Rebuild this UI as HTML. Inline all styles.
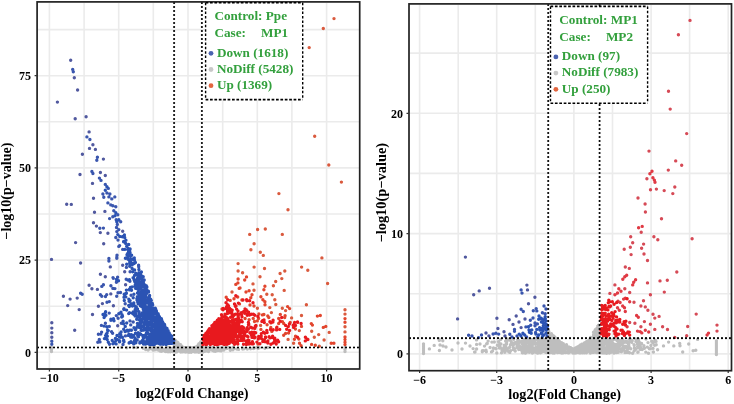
<!DOCTYPE html>
<html><head><meta charset="utf-8"><style>
html,body{margin:0;padding:0;background:#fff;}
body{width:734px;height:404px;overflow:hidden;}
svg{display:block;filter:blur(0.3px);}
</style></head><body>
<svg width="734" height="404" viewBox="0 0 734 404">
<path d="M49.4 3V368M84.1 3V368M118.7 3V368M153.3 3V368M188.0 3V368M222.7 3V368M257.3 3V368M291.9 3V368M326.6 3V368M38 352.3H359M38 306.2H359M38 260.1H359M38 214.0H359M38 167.9H359M38 121.8H359M38 75.7H359M38 29.6H359M419.6 5V369.5M458.2 5V369.5M496.7 5V369.5M535.3 5V369.5M573.9 5V369.5M612.5 5V369.5M651.1 5V369.5M689.6 5V369.5M728.2 5V369.5M410 353.9H731M410 293.8H731M410 233.6H731M410 173.4H731M410 113.3H731M410 53.1H731" stroke="#EBEBEB" stroke-width="1.6" fill="none"/><path d="M174.3 351.5h0M211.1 348.7h0M184.7 347.6h0M213.8 348.5h0M190.0 349.2h0M185.2 351.0h0M212.8 350.5h0M195.0 351.3h0M175.9 347.6h0M207.2 349.0h0M199.6 350.3h0M196.1 350.0h0M200.4 346.8h0M153.3 348.5h0M188.6 349.1h0M202.3 348.5h0M216.9 349.7h0M187.2 349.3h0M181.1 346.0h0M187.5 348.5h0M177.6 351.1h0M206.1 347.6h0M164.4 350.2h0M259.2 347.8h0M222.9 348.7h0M176.6 342.9h0M223.8 347.9h0M177.0 349.5h0M197.9 348.6h0M174.9 340.8h0M194.2 349.9h0M220.7 348.1h0M184.1 350.0h0M186.0 348.1h0M182.9 351.8h0M180.6 344.8h0M187.5 351.6h0M126.8 347.7h0M179.9 349.5h0M193.4 350.4h0M198.7 349.3h0M194.9 349.9h0M201.3 346.7h0M180.8 347.2h0M211.3 348.2h0M175.4 344.7h0M199.5 347.8h0M199.3 344.8h0M174.9 348.5h0M182.0 350.7h0M183.0 349.4h0M168.3 350.1h0M213.9 351.1h0M178.4 348.9h0M180.8 346.5h0M148.1 350.0h0M166.2 348.1h0M222.0 349.2h0M214.6 350.4h0M169.1 349.0h0M195.0 352.1h0M187.8 349.3h0M221.4 350.3h0M242.7 349.1h0M178.0 345.5h0M253.3 348.5h0M190.1 351.0h0M179.5 351.0h0M121.6 347.4h0M207.8 349.3h0M197.9 348.6h0M154.6 349.6h0M167.0 350.6h0M199.0 343.8h0M192.5 349.1h0M206.8 348.1h0M186.6 348.0h0M201.0 341.9h0M177.5 344.8h0M169.6 351.0h0M183.8 350.4h0M175.8 351.4h0M177.3 344.2h0M209.5 349.2h0M161.5 347.3h0M202.1 350.9h0M191.0 349.3h0M224.5 349.1h0M212.9 349.3h0M183.9 347.8h0M160.2 351.1h0M256.8 347.4h0M200.2 349.5h0M177.9 351.0h0M190.0 352.1h0M194.4 347.4h0M166.7 350.8h0M208.1 347.4h0M182.7 351.9h0M178.8 347.3h0M189.0 352.2h0M176.1 352.0h0M201.3 347.1h0M159.0 348.6h0M254.2 348.2h0M195.8 350.1h0M185.5 351.6h0M179.1 344.3h0M199.3 351.8h0M160.6 347.4h0M199.1 350.9h0M201.8 342.4h0M168.1 351.7h0M195.6 349.7h0M233.1 347.3h0M201.3 345.2h0M183.1 351.2h0M166.2 351.1h0M186.9 350.1h0M167.4 348.1h0M209.7 349.7h0M180.1 346.7h0M188.7 350.9h0M191.9 350.4h0M176.3 346.0h0M198.2 351.2h0M205.3 349.5h0M187.9 349.7h0M206.1 348.8h0M161.2 347.6h0M201.2 351.7h0M232.9 349.7h0M185.0 349.1h0M183.0 350.2h0M174.2 346.3h0M199.1 347.9h0M198.6 350.6h0M209.3 347.9h0M192.8 349.9h0M174.4 348.0h0M177.8 348.0h0M176.5 345.1h0M175.8 344.8h0M199.2 344.3h0M190.5 348.2h0M214.3 348.8h0M204.7 350.5h0M157.8 349.9h0M207.2 348.0h0M221.2 350.8h0M243.2 348.1h0M154.6 349.9h0M199.5 350.7h0M154.0 348.8h0M188.0 348.9h0M185.3 352.0h0M216.4 350.2h0M203.1 349.0h0M188.5 348.9h0M176.3 343.2h0M206.1 349.1h0M161.1 347.9h0M238.6 349.4h0M149.9 348.6h0M206.8 350.9h0M208.5 351.6h0M184.7 349.2h0M189.5 350.0h0M222.1 349.7h0M219.6 350.6h0M223.8 350.1h0M219.5 348.5h0M190.3 351.2h0M197.3 347.9h0M193.6 351.6h0M176.8 347.7h0M201.2 347.4h0M159.1 349.1h0M177.4 342.2h0M186.7 351.1h0M189.6 349.4h0M208.5 349.1h0M198.0 350.8h0M230.7 349.9h0M177.2 345.2h0M174.7 349.7h0M176.4 346.0h0M219.8 348.0h0M185.5 347.7h0M244.0 348.7h0M165.3 350.8h0M181.9 346.3h0M196.6 351.0h0M200.3 346.3h0M192.8 347.7h0M181.4 349.2h0M145.7 349.5h0M158.3 350.1h0M174.8 342.0h0M155.6 347.8h0M177.6 349.3h0M204.7 349.3h0M154.6 349.3h0M159.6 348.1h0M191.6 350.0h0M152.7 349.3h0M168.3 349.5h0M173.1 350.3h0M192.0 349.6h0M176.5 344.5h0M210.1 349.7h0M166.9 349.8h0M171.9 349.2h0M157.0 349.3h0M201.7 343.7h0M198.3 345.5h0M187.2 348.9h0M196.7 349.2h0M174.1 340.4h0M153.9 348.7h0M181.8 350.6h0M198.3 350.4h0M212.5 348.1h0M202.9 352.0h0M149.4 347.6h0M151.1 347.8h0M250.6 348.8h0M190.1 348.8h0M158.7 350.0h0M189.0 348.5h0M204.4 348.2h0M200.9 349.6h0M210.3 348.6h0M226.8 348.5h0M217.2 350.6h0M178.9 350.9h0M136.7 347.6h0M190.2 347.4h0M215.2 348.6h0M233.8 348.5h0M157.9 349.5h0M165.0 351.2h0M197.9 349.7h0M169.3 349.9h0M194.5 348.9h0M211.6 349.7h0M187.4 349.3h0M176.6 351.9h0M202.5 351.1h0M150.0 348.7h0M175.2 352.0h0M196.1 351.6h0M200.0 345.9h0M143.4 348.2h0M175.0 348.8h0M176.0 351.3h0M169.1 347.4h0M175.3 348.2h0M199.6 347.9h0M163.3 350.4h0M230.3 350.2h0M180.6 345.1h0M220.6 348.8h0M228.4 347.5h0M197.0 351.9h0M200.3 345.7h0M182.4 351.4h0M185.6 348.9h0M221.4 349.1h0M178.8 347.5h0M151.5 348.8h0M190.3 349.4h0M175.5 346.6h0M200.7 342.6h0M183.1 349.1h0M198.6 350.9h0M182.8 350.8h0M196.3 347.2h0M194.3 351.8h0M247.3 349.0h0M166.3 349.7h0M182.6 349.3h0M185.9 351.7h0M182.2 350.5h0M200.9 344.0h0M201.7 345.0h0M153.5 347.3h0M171.8 348.4h0M189.6 348.1h0M180.3 350.7h0M184.8 348.7h0M191.7 348.1h0M186.2 351.2h0M186.0 350.3h0M199.1 350.3h0M200.7 341.9h0M174.5 341.3h0M189.2 348.4h0M190.9 350.8h0M193.6 351.4h0M219.3 348.1h0M196.5 346.7h0M208.0 350.6h0M203.3 347.4h0M213.5 350.2h0M186.2 349.0h0M190.9 347.7h0M161.5 351.2h0M175.6 340.8h0M208.7 349.3h0M169.2 349.7h0M176.4 351.6h0M198.5 351.7h0M195.6 350.4h0M174.1 339.4h0M174.9 350.2h0M215.7 351.1h0M177.1 343.2h0M144.0 347.9h0M198.9 352.2h0M172.5 351.5h0M197.0 351.2h0M188.2 351.1h0M184.2 351.1h0M183.1 348.7h0M199.4 343.6h0M203.1 350.9h0M205.2 350.0h0M159.5 350.3h0M168.6 351.1h0M174.3 351.9h0M177.3 351.1h0M181.7 348.1h0M180.5 346.5h0M175.4 343.4h0M177.9 342.7h0M207.0 347.7h0M214.8 350.3h0M177.3 349.2h0M193.8 350.4h0M194.6 348.0h0M177.9 348.0h0M197.2 348.7h0M155.4 348.5h0M204.8 350.4h0M195.1 350.0h0M236.8 349.0h0M173.5 350.3h0M188.4 348.7h0M219.6 350.2h0M191.2 352.3h0M159.8 349.3h0M202.0 341.5h0M180.8 352.1h0M230.4 350.3h0M158.6 350.0h0M160.1 349.8h0M174.0 348.0h0M225.9 347.7h0M193.7 348.8h0M200.3 344.1h0M230.2 348.9h0M174.7 347.9h0M181.8 348.4h0M163.2 349.2h0M215.3 351.3h0M179.3 349.7h0M194.9 351.0h0M175.5 348.2h0M209.7 348.3h0M198.3 344.6h0M201.0 351.9h0M208.1 350.1h0M198.1 345.9h0M200.5 349.4h0M167.9 347.3h0M167.6 350.6h0M175.7 345.1h0M174.8 347.2h0M202.9 352.1h0M206.3 348.8h0M133.5 347.5h0M226.7 348.4h0M267.7 347.5h0M211.8 349.1h0M174.1 349.7h0M174.4 351.4h0M170.3 351.8h0M188.1 347.4h0M243.2 348.9h0M178.2 349.2h0M186.5 351.9h0M165.2 350.6h0M174.9 350.3h0M213.0 349.3h0M192.9 348.5h0M204.9 351.3h0M212.7 347.3h0M198.9 350.2h0M198.6 351.2h0M217.2 347.4h0M184.8 348.5h0M178.3 348.2h0M185.3 347.8h0M199.6 350.2h0M264.9 348.2h0M154.1 348.9h0M153.1 350.1h0M220.7 350.2h0M175.5 345.6h0M204.2 350.3h0M166.9 351.6h0M175.2 351.8h0M189.9 348.7h0M165.5 351.6h0M253.3 348.0h0M258.1 348.4h0M174.2 342.7h0M158.1 349.5h0M194.2 349.8h0M233.6 347.9h0M189.5 347.7h0M175.8 343.0h0M196.7 349.9h0M212.9 348.0h0M51.5 347.5h0M51.5 349.5h0M51.5 351.5h0M345.0 347.5h0M345.0 349.5h0M345.0 351.5h0M595.5 344.7h0M578.8 351.0h0M591.9 349.6h0M595.3 329.6h0M601.3 343.3h0M602.4 342.8h0M557.7 351.8h0M602.3 346.9h0M616.7 345.1h0M619.5 345.1h0M603.9 339.9h0M652.9 342.9h0M625.0 342.0h0M597.8 326.1h0M557.9 344.7h0M549.2 352.8h0M615.1 348.0h0M568.6 350.8h0M520.3 347.6h0M614.3 347.1h0M585.4 343.8h0M589.1 344.5h0M598.1 328.5h0M550.7 335.9h0M514.8 342.8h0M533.0 339.9h0M537.4 339.3h0M598.2 340.3h0M601.2 344.0h0M513.4 349.5h0M529.8 341.5h0M496.8 353.0h0M496.0 348.8h0M541.8 345.0h0M598.8 327.3h0M528.2 339.7h0M586.4 344.2h0M501.5 352.8h0M502.0 350.1h0M588.9 347.5h0M548.3 330.6h0M552.3 341.1h0M592.1 344.8h0M580.8 352.7h0M546.2 349.1h0M492.6 350.9h0M627.4 346.8h0M556.7 350.7h0M528.7 343.2h0M465.5 343.1h0M547.2 344.6h0M550.2 340.7h0M559.1 347.8h0M634.0 344.6h0M587.4 346.8h0M638.1 351.9h0M608.8 342.8h0M646.0 339.0h0M539.8 344.0h0M553.3 342.4h0M554.0 340.1h0M552.7 340.6h0M552.0 352.6h0M545.1 342.7h0M614.0 346.5h0M544.8 348.4h0M582.3 349.7h0M623.2 349.5h0M600.7 351.9h0M577.9 352.1h0M551.1 350.8h0M593.4 349.1h0M525.1 345.0h0M531.1 344.9h0M586.4 352.8h0M559.8 344.4h0M539.3 341.9h0M617.2 349.6h0M503.9 348.0h0M567.0 352.2h0M504.3 346.4h0M549.3 339.8h0M555.2 342.8h0M597.3 348.3h0M524.4 347.4h0M546.1 345.2h0M579.6 352.9h0M567.2 348.1h0M540.1 346.5h0M558.5 342.8h0M520.4 348.0h0M600.3 348.2h0M601.2 347.8h0M599.7 343.3h0M596.8 341.2h0M552.1 343.7h0M507.1 348.8h0M590.9 346.1h0M586.1 350.5h0M605.0 341.7h0M439.0 339.0h0M561.6 351.6h0M568.9 352.7h0M550.9 350.3h0M537.5 353.1h0M540.1 344.3h0M592.4 338.4h0M579.3 352.7h0M548.1 336.7h0M510.5 340.4h0M580.7 352.0h0M556.2 344.0h0M590.3 342.3h0M570.9 351.3h0M476.5 339.9h0M603.4 339.1h0M572.8 348.7h0M552.2 339.9h0M513.3 344.9h0M522.1 344.3h0M553.8 350.2h0M599.5 352.4h0M599.5 329.5h0M601.8 344.0h0M565.7 348.9h0M521.4 341.7h0M602.3 341.6h0M595.7 348.8h0M606.8 348.5h0M625.0 342.0h0M621.4 351.7h0M527.9 341.8h0M626.1 341.1h0M618.5 344.4h0M538.6 347.7h0M562.5 345.5h0M525.2 353.0h0M562.9 350.9h0M563.3 343.8h0M566.7 347.7h0M593.8 348.6h0M559.4 341.9h0M530.2 345.8h0M573.8 350.0h0M591.8 346.2h0M638.6 339.1h0M530.5 348.4h0M624.1 347.6h0M655.2 340.1h0M540.3 352.5h0M592.6 340.3h0M529.5 350.6h0M554.3 349.5h0M529.6 344.1h0M598.6 344.5h0M582.5 352.8h0M536.5 339.0h0M552.0 339.9h0M562.8 344.8h0M609.7 340.0h0M645.8 352.1h0M549.1 336.6h0M544.0 347.9h0M629.6 339.1h0M574.9 353.0h0M597.8 333.0h0M578.3 349.2h0M605.1 352.8h0M553.6 336.0h0M609.9 344.5h0M543.2 347.6h0M504.8 352.3h0M525.6 353.0h0M598.4 330.9h0M608.3 346.5h0M506.2 347.6h0M552.8 348.7h0M635.9 341.4h0M533.6 342.5h0M625.0 352.6h0M555.9 349.2h0M693.1 350.7h0M586.5 341.7h0M517.1 346.5h0M529.3 352.2h0M607.1 345.5h0M551.3 346.3h0M598.8 350.6h0M556.2 351.2h0M599.0 327.9h0M597.2 336.3h0M600.0 350.8h0M585.6 343.1h0M532.9 344.4h0M656.2 344.7h0M607.2 346.2h0M536.7 339.0h0M612.3 344.8h0M558.9 351.9h0M538.7 341.0h0M580.7 346.1h0M558.3 343.0h0M549.4 342.0h0M550.3 352.5h0M544.1 343.0h0M483.4 350.6h0M620.7 344.7h0M602.8 343.3h0M476.6 344.4h0M618.2 351.8h0M623.5 350.1h0M571.7 348.9h0M575.0 351.3h0M613.4 346.2h0M582.9 347.1h0M509.5 347.4h0M621.0 351.1h0M615.2 352.4h0M628.8 344.9h0M523.2 350.1h0M575.5 348.0h0M535.0 350.2h0M639.0 345.3h0M542.3 344.9h0M545.5 348.1h0M595.2 332.4h0M610.6 344.8h0M594.9 341.3h0M560.1 348.5h0M589.4 347.9h0M544.3 350.8h0M513.2 347.2h0M525.1 343.7h0M500.7 339.4h0M531.8 341.1h0M651.7 341.3h0M626.9 341.8h0M631.7 342.2h0M568.6 351.7h0M639.4 342.8h0M548.8 333.1h0M577.7 352.4h0M594.3 335.8h0M513.0 345.0h0M548.4 350.3h0M600.3 348.0h0M557.5 344.6h0M564.0 348.3h0M516.3 342.3h0M543.3 345.3h0M532.7 340.6h0M527.6 340.4h0M596.3 350.3h0M587.2 342.4h0M558.2 352.4h0M596.9 330.6h0M542.8 339.5h0M653.4 352.0h0M596.9 345.9h0M623.4 346.2h0M549.7 345.1h0M541.4 350.4h0M525.3 340.7h0M540.6 346.9h0M597.1 331.3h0M618.4 339.6h0M620.4 341.0h0M559.4 343.0h0M547.8 342.8h0M543.4 351.2h0M639.7 342.7h0M602.0 340.1h0M536.2 352.4h0M575.3 351.2h0M527.3 348.3h0M523.0 341.7h0M602.1 342.8h0M514.7 343.2h0M554.9 343.5h0M535.1 339.4h0M643.9 345.7h0M556.1 344.9h0M576.8 351.6h0M608.7 345.1h0M443.0 346.0h0M532.2 346.4h0M548.5 331.2h0M557.2 341.9h0M554.0 341.6h0M551.4 338.5h0M545.5 348.2h0M486.0 350.3h0M577.1 350.0h0M602.2 349.9h0M535.3 344.0h0M488.1 341.1h0M558.0 352.3h0M540.8 340.9h0M616.2 352.5h0M589.7 340.3h0M565.0 351.1h0M535.9 349.9h0M548.7 331.5h0M621.0 349.1h0M545.0 344.9h0M641.1 347.7h0M548.6 332.6h0M551.5 334.1h0M530.0 350.9h0M579.8 351.7h0M592.0 352.4h0M536.3 348.0h0M576.9 347.2h0M549.3 339.4h0M551.4 333.6h0M583.8 350.7h0M601.5 345.4h0M580.0 345.2h0M527.9 351.5h0M605.9 348.5h0M507.2 340.7h0M603.7 348.8h0M595.3 335.7h0M554.4 342.0h0M560.6 346.0h0M587.7 344.9h0M583.3 352.4h0M491.5 351.9h0M510.7 344.4h0M558.1 351.2h0M546.6 339.5h0M557.6 351.1h0M594.5 332.3h0M558.6 340.6h0M561.6 346.6h0M544.9 339.4h0M647.3 347.1h0M617.0 346.5h0M531.9 339.5h0M593.8 347.1h0M506.6 342.9h0M579.5 348.2h0M505.0 352.0h0M628.3 343.8h0M548.2 337.6h0M525.5 346.0h0M585.9 344.8h0M594.3 348.5h0M607.5 350.5h0M601.3 350.4h0M591.0 352.4h0M590.6 337.5h0M620.6 340.8h0M541.8 350.1h0M576.7 347.5h0M602.5 341.4h0M563.3 352.7h0M626.2 346.9h0M552.9 342.7h0M538.4 352.1h0M589.8 347.7h0M553.4 350.2h0M599.6 350.5h0M598.7 335.9h0M555.9 350.8h0M605.3 348.5h0M551.1 345.8h0M509.8 352.4h0M593.5 338.6h0M513.6 339.4h0M594.8 332.8h0M583.5 349.4h0M595.2 348.6h0M598.9 339.7h0M607.0 346.5h0M551.3 341.0h0M607.8 343.9h0M525.4 339.0h0M593.5 332.3h0M602.7 352.9h0M545.3 340.3h0M554.4 336.6h0M607.1 352.2h0M589.1 341.3h0M553.0 353.0h0M533.7 350.4h0M558.0 342.5h0M579.4 350.6h0M596.8 334.7h0M580.6 348.0h0M587.3 349.2h0M549.6 347.3h0M605.6 340.5h0M614.8 349.5h0M553.2 339.1h0M593.9 348.1h0M640.3 344.9h0M587.3 341.4h0M519.2 340.6h0M649.4 348.8h0M551.9 352.0h0M555.8 350.4h0M508.0 339.2h0M557.9 349.9h0M549.5 344.5h0M535.7 339.4h0M616.2 350.9h0M579.1 347.7h0M538.8 345.7h0M603.7 340.8h0M597.0 330.0h0M588.1 347.4h0M594.0 338.6h0M617.4 347.5h0M590.7 341.4h0M541.5 342.5h0M505.6 346.3h0M548.6 338.4h0M562.4 346.6h0M613.2 339.5h0M543.5 339.5h0M565.3 345.3h0M524.5 339.3h0M632.2 340.7h0M594.2 331.7h0M591.2 343.7h0M593.3 342.2h0M608.7 342.3h0M518.5 341.8h0M604.4 348.2h0M579.5 346.7h0M538.0 346.3h0M599.6 341.7h0M596.4 339.5h0M584.2 352.7h0M587.2 351.7h0M584.9 345.1h0M529.7 349.8h0M558.2 352.2h0M560.2 343.1h0M562.2 344.3h0M595.6 351.0h0M581.8 344.2h0M565.5 346.3h0M498.8 342.1h0M493.5 348.0h0M560.6 352.6h0M600.8 345.9h0M561.8 349.3h0M557.6 346.9h0M579.4 349.5h0M607.4 352.2h0M500.9 343.9h0M522.9 352.7h0M592.8 340.0h0M511.5 342.5h0M553.5 339.7h0M626.6 352.1h0M521.9 350.8h0M589.6 339.9h0M589.3 342.3h0M529.3 344.1h0M520.3 349.3h0M557.4 352.5h0M597.8 352.5h0M577.8 347.2h0M582.2 348.9h0M634.2 351.0h0M545.9 346.5h0M525.8 352.7h0M603.8 345.5h0M653.0 348.4h0M609.0 340.0h0M586.4 346.6h0M568.6 348.0h0M617.4 346.2h0M602.3 348.3h0M609.5 343.7h0M525.9 348.0h0M610.9 350.6h0M601.9 352.8h0M576.7 347.4h0M563.4 350.2h0M557.7 346.3h0M561.9 353.1h0M594.8 337.6h0M648.5 353.2h0M558.9 349.7h0M622.9 343.1h0M510.7 350.6h0M628.0 351.7h0M550.1 334.6h0M597.6 343.5h0M552.9 348.7h0M545.7 345.0h0M568.2 352.7h0M616.3 352.5h0M589.5 343.9h0M517.5 345.2h0M519.6 346.5h0M552.3 349.6h0M614.3 344.3h0M638.7 341.1h0M552.0 335.4h0M606.6 343.3h0M533.2 352.6h0M539.6 340.8h0M627.0 350.1h0M551.1 350.1h0M537.0 352.2h0M592.8 348.2h0M486.7 343.7h0M641.6 343.5h0M558.0 352.0h0M627.5 342.7h0M528.8 350.5h0M529.0 351.8h0M601.4 343.1h0M608.3 345.7h0M602.8 345.8h0M592.5 344.3h0M590.6 351.0h0M541.2 344.2h0M506.8 339.0h0M555.9 349.0h0M548.0 332.4h0M528.9 346.7h0M540.7 350.3h0M593.5 335.0h0M516.2 343.0h0M596.8 332.6h0M621.9 349.7h0M563.9 352.0h0M522.9 341.0h0M613.1 346.0h0M612.0 349.9h0M558.4 350.2h0M605.3 339.4h0M564.9 351.4h0M546.2 348.6h0M531.7 347.2h0M538.5 340.5h0M597.1 348.4h0M525.6 351.3h0M563.2 352.2h0M575.5 351.9h0M557.6 342.5h0M616.0 351.3h0M569.3 347.1h0M539.3 352.5h0M531.8 343.4h0M546.1 343.8h0M553.3 341.8h0M523.2 346.4h0M596.8 328.4h0M473.1 348.6h0M637.4 343.9h0M581.5 346.9h0M565.7 352.6h0M568.8 346.9h0M616.6 339.8h0M546.2 352.5h0M532.4 353.1h0M563.7 346.8h0M561.9 345.6h0M439.3 340.4h0M611.1 340.3h0M551.4 344.3h0M514.4 348.6h0M560.3 344.5h0M600.7 349.1h0M523.8 350.6h0M512.6 344.7h0M591.6 341.3h0M601.1 345.9h0M594.5 332.4h0M607.5 345.3h0M590.0 339.9h0M591.2 344.3h0M527.6 350.1h0M589.9 339.4h0M571.8 352.1h0M555.1 349.9h0M503.7 350.5h0M650.4 348.6h0M483.4 350.6h0M613.9 349.1h0M545.2 346.9h0M581.1 351.7h0M598.2 330.8h0M622.3 349.9h0M603.9 352.9h0M589.3 343.7h0M518.8 343.5h0M609.3 353.0h0M622.6 348.3h0M644.4 348.2h0M590.2 347.6h0M581.8 344.9h0M617.5 350.2h0M554.5 351.2h0M548.4 329.7h0M542.1 342.6h0M543.9 350.5h0M598.1 350.7h0M680.0 345.7h0M570.7 347.7h0M619.2 348.5h0M668.6 342.1h0M598.3 329.3h0M551.8 345.3h0M543.9 339.9h0M575.7 348.7h0M603.7 342.2h0M533.3 348.1h0M599.4 351.2h0M561.9 348.9h0M595.1 331.4h0M563.1 345.2h0M552.0 347.5h0M598.5 350.9h0M551.2 349.9h0M505.6 341.1h0M540.5 352.8h0M598.8 326.0h0M517.7 339.7h0M568.5 350.6h0M594.1 338.5h0M585.6 348.8h0M495.5 348.5h0M556.4 346.2h0M543.4 347.6h0M527.8 338.8h0M566.5 344.7h0M607.8 338.9h0M594.0 347.1h0M529.4 341.3h0M593.7 348.1h0M537.9 351.3h0M574.0 349.4h0M544.2 349.8h0M439.4 350.5h0M487.2 343.4h0M544.8 346.0h0M539.0 351.9h0M612.8 343.0h0M597.6 351.8h0M607.9 346.9h0M619.0 347.8h0M619.2 347.6h0M554.9 338.4h0M557.8 349.3h0M629.9 341.8h0M590.0 348.6h0M556.0 338.7h0M597.2 337.2h0M552.7 348.0h0M505.9 350.3h0M548.7 331.3h0M598.5 334.9h0M565.0 345.7h0M506.2 349.1h0M498.4 341.6h0M564.7 348.2h0M596.8 338.8h0M549.9 341.3h0M542.1 347.0h0M623.0 348.3h0M593.3 342.4h0M560.9 348.5h0M547.0 349.5h0M539.6 350.8h0M502.2 348.9h0M552.1 345.1h0M597.8 344.7h0M540.3 346.7h0M597.6 333.6h0M559.1 350.7h0M590.3 343.6h0M555.7 348.7h0M637.8 352.3h0M573.3 351.6h0M600.1 346.6h0M611.9 346.1h0M542.8 350.0h0M607.1 345.1h0M548.8 331.5h0M600.0 352.7h0M524.5 352.7h0M567.8 352.2h0M565.2 347.2h0M627.2 352.4h0M634.5 348.0h0M682.7 352.0h0M588.9 346.8h0M579.8 348.5h0M540.6 351.5h0M593.2 340.2h0M600.4 344.4h0M544.4 341.0h0M606.9 348.6h0M591.2 347.3h0M598.3 341.8h0M514.3 343.7h0M609.1 344.0h0M612.1 346.9h0M550.5 336.8h0M575.8 351.5h0M541.8 350.4h0M529.4 347.0h0M553.0 350.3h0M615.4 345.0h0M654.7 345.2h0M535.0 342.5h0M583.7 348.6h0M555.9 338.3h0M556.2 340.6h0M499.2 345.1h0M590.8 341.7h0M609.1 348.4h0M552.2 342.4h0M596.2 335.2h0M590.6 341.8h0M546.6 349.0h0M563.2 346.7h0M560.8 346.3h0M599.4 334.3h0M526.9 342.6h0M591.4 341.9h0M617.0 340.5h0M539.0 344.0h0M596.7 330.2h0M554.3 353.1h0M581.4 350.8h0M588.4 340.6h0M588.9 347.8h0M622.7 348.1h0M596.5 352.5h0M561.6 342.8h0M598.6 325.2h0M551.9 334.9h0M610.4 345.0h0M549.0 342.9h0M630.3 339.1h0M581.3 352.6h0M542.8 346.0h0M605.9 348.9h0M632.6 353.2h0M552.4 345.8h0M585.1 347.7h0M601.9 341.0h0M547.3 339.2h0M592.7 349.1h0M542.0 341.8h0M568.4 352.0h0M548.2 342.4h0M599.9 343.9h0M549.0 347.8h0M552.4 335.9h0M528.7 339.1h0M552.3 348.6h0M642.2 349.5h0M606.7 344.1h0M596.6 337.5h0M613.8 352.3h0M554.1 338.7h0M584.8 344.4h0M578.7 348.3h0M593.4 336.2h0M596.2 341.9h0M552.2 339.4h0M551.6 343.4h0M504.3 345.3h0M591.0 339.8h0M593.1 343.0h0M563.1 343.9h0M626.7 342.4h0M545.8 346.3h0M546.4 351.2h0M598.2 329.4h0M551.9 334.7h0M594.7 342.1h0M553.4 345.2h0M563.9 348.2h0M523.6 345.3h0M617.3 350.4h0M604.5 339.7h0M589.9 347.6h0M545.1 351.9h0M476.6 349.0h0M626.0 341.7h0M595.2 346.2h0M612.8 350.3h0M518.8 349.6h0M558.8 346.0h0M597.6 342.7h0M602.7 340.3h0M603.3 340.7h0M547.1 352.4h0M588.0 341.2h0M536.0 347.3h0M601.1 345.0h0M549.0 342.2h0M589.9 342.9h0M639.4 346.8h0M602.4 342.3h0M557.0 343.5h0M613.1 347.7h0M508.6 350.6h0M500.2 347.2h0M597.7 349.1h0M614.0 353.1h0M629.1 339.2h0M529.5 341.4h0M591.2 348.9h0M578.0 346.8h0M559.0 340.7h0M593.9 352.2h0M553.0 338.7h0M549.9 334.5h0M556.9 348.6h0M553.0 339.8h0M563.5 351.1h0M626.1 346.5h0M617.7 340.9h0M561.4 343.8h0M625.4 346.4h0M586.4 349.6h0M542.2 351.4h0M550.7 345.9h0M585.3 343.2h0M573.2 353.0h0M623.0 343.4h0M515.2 351.0h0M616.4 349.7h0M609.7 346.2h0M597.2 346.4h0M537.9 353.0h0M611.7 341.1h0M442.8 340.7h0M542.0 340.6h0M595.5 330.9h0M595.3 334.5h0M609.4 347.0h0M622.8 341.2h0M598.3 341.5h0M601.2 341.0h0M524.2 343.2h0M587.8 345.4h0M619.5 343.9h0M597.6 327.8h0M572.8 350.6h0M592.6 343.0h0M625.8 351.1h0M562.5 344.4h0M586.9 350.9h0M556.0 348.2h0M527.2 339.5h0M612.9 344.2h0M560.0 342.4h0M581.0 349.7h0M555.4 349.2h0M629.5 352.7h0M654.1 341.6h0M614.3 349.0h0M544.4 350.8h0M538.0 342.2h0M541.0 351.6h0M601.9 344.5h0M553.3 343.1h0M606.6 353.2h0M558.5 340.5h0M517.6 348.1h0M592.4 346.5h0M612.1 343.8h0M590.6 348.9h0M474.6 352.1h0M598.2 338.8h0M569.8 348.6h0M527.5 339.9h0M596.3 347.4h0M609.9 351.7h0M506.5 344.1h0M530.8 349.9h0M555.7 345.1h0M609.5 341.6h0M510.4 344.9h0M567.2 349.1h0M595.6 346.2h0M629.2 347.2h0M650.9 345.5h0M604.3 350.0h0M586.0 346.3h0M551.1 339.5h0M557.5 349.7h0M482.3 351.8h0M548.8 336.2h0M616.0 344.4h0M530.3 345.9h0M517.2 347.1h0M521.5 348.8h0M546.3 343.1h0M601.8 351.8h0M624.3 346.7h0M585.5 342.6h0M547.2 347.6h0M606.6 349.3h0M494.3 342.0h0M593.0 345.1h0M542.9 350.4h0M570.3 348.6h0M618.5 342.8h0M593.1 341.4h0M548.6 333.5h0M558.8 350.6h0M634.2 345.2h0M604.4 343.1h0M528.9 340.1h0M611.2 340.1h0M491.9 342.1h0M576.2 352.8h0M638.4 347.8h0M499.4 348.0h0M597.3 348.4h0M585.8 344.8h0M497.4 345.3h0M522.4 352.7h0M537.4 342.9h0M548.7 333.9h0M544.7 340.7h0M627.0 346.9h0M592.6 340.9h0M528.7 340.7h0M597.0 345.0h0M434.2 345.4h0M635.8 349.3h0M588.1 344.9h0M549.9 345.1h0M518.8 342.1h0M640.6 349.4h0M599.1 340.8h0M607.3 345.3h0M613.8 345.6h0M539.7 345.8h0M590.3 353.0h0M530.2 347.5h0M609.6 349.4h0M530.1 348.5h0M482.4 350.8h0M598.1 335.5h0M523.6 348.7h0M599.6 351.5h0M600.4 348.0h0M541.4 352.2h0M521.3 349.0h0M527.6 341.8h0M577.4 348.3h0M630.8 348.8h0M600.5 343.3h0M525.7 345.5h0M595.7 352.1h0M521.7 347.5h0M635.8 339.0h0M545.6 347.1h0M623.0 339.9h0M594.0 349.1h0M598.2 340.8h0M537.7 343.8h0M598.0 352.3h0M614.8 339.0h0M590.1 338.9h0M611.1 352.2h0M600.5 347.0h0M637.6 346.4h0M595.5 335.8h0M591.6 345.8h0M557.7 349.0h0M548.2 337.8h0M553.9 339.5h0M601.3 347.5h0M619.5 344.1h0M593.6 350.7h0M530.5 344.3h0M531.5 347.1h0M616.4 352.1h0M582.4 349.7h0M628.1 348.5h0M589.4 351.3h0M541.5 346.5h0M592.0 348.1h0M564.4 345.1h0M578.0 349.2h0M609.4 352.5h0M619.5 341.0h0M517.7 345.0h0M490.1 347.5h0M531.3 348.5h0M556.1 342.5h0M695.8 350.3h0M608.6 339.9h0M622.3 343.7h0M559.3 341.2h0M589.6 343.0h0M596.4 348.6h0M584.5 343.0h0M541.2 347.6h0M561.9 344.6h0M584.4 347.5h0M610.7 342.6h0M537.1 349.6h0M508.7 351.8h0M648.0 342.6h0M587.8 344.9h0M560.9 349.4h0M556.4 347.8h0M563.7 351.5h0M573.6 352.4h0M539.4 342.5h0M530.6 350.3h0M605.9 342.5h0M587.1 347.6h0M591.9 349.2h0M527.7 351.9h0M548.4 335.3h0M582.6 344.2h0M584.7 342.9h0M607.9 342.3h0M617.4 348.0h0M580.9 351.1h0M522.3 352.2h0M524.5 342.2h0M620.2 345.5h0M549.2 352.1h0M540.0 338.9h0M596.1 342.9h0M514.4 344.1h0M542.5 347.3h0M608.0 352.4h0M619.2 340.4h0M594.1 351.2h0M579.1 352.6h0M513.1 343.3h0M557.3 346.6h0M555.1 352.0h0M598.2 345.2h0M551.9 345.3h0M486.3 351.8h0M526.3 342.7h0M542.4 342.3h0M540.3 348.1h0M590.9 349.1h0M525.4 350.0h0M587.6 346.0h0M586.9 347.0h0M591.0 352.2h0M618.2 352.3h0M535.3 338.8h0M549.4 340.2h0M484.5 346.1h0M626.5 347.5h0M555.3 346.0h0M552.7 338.0h0M584.4 346.8h0M594.5 344.7h0M528.8 343.4h0M591.2 350.6h0M584.9 342.7h0M606.5 351.5h0M555.1 337.4h0M499.8 346.1h0M526.8 346.0h0M531.4 352.0h0M584.3 345.3h0M551.2 338.2h0M423.5 344.0h0M423.5 346.0h0M423.5 348.0h0M423.5 350.0h0M423.5 352.0h0M423.5 353.5h0M716.4 341.0h0M716.4 343.0h0M716.4 345.0h0M716.4 347.0h0M716.4 349.0h0M716.4 351.0h0M716.4 353.0h0M716.4 354.5h0M429.4 348.9h0M656.0 341.4h0M657.6 349.7h0M663.5 345.9h0M673.8 345.9h0M679.7 343.4h0M688.7 344.0h0M697.6 339.4h0M440.0 345.0h0M446.0 347.0h0M452.0 350.0h0M458.0 343.0h0M462.0 349.0h0M470.0 346.0h0M475.0 352.0h0M480.0 344.0h0" stroke="#BEBEBE" stroke-width="3.4" stroke-linecap="round" fill="none"/><path d="M103.7 243.8h0M100.3 232.6h0M113.4 305.8h0M110.8 293.9h0M125.6 284.7h0M117.7 325.7h0M124.7 271.7h0M104.9 211.4h0M107.9 233.2h0M122.7 231.2h0M122.7 265.2h0M70.7 60.3h0M74.3 77.7h0M77.6 90.0h0M57.4 102.1h0M86.1 116.7h0M75.2 118.7h0M89.1 131.9h0M92.9 144.8h0M89.5 148.4h0M95.4 149.4h0M82.4 154.3h0M103.4 159.1h0M80.0 174.5h0M100.4 172.5h0M105.3 175.5h0M92.5 183.4h0M93.5 198.3h0M66.7 204.2h0M71.3 204.4h0M94.5 212.3h0M93.5 222.8h0M96.4 226.1h0M75.6 242.6h0M51.5 259.4h0M80.6 263.0h0M110.3 266.9h0M100.4 274.3h0M105.3 276.8h0M89.1 285.2h0M91.9 288.8h0M97.4 289.4h0M63.4 296.3h0M70.1 299.1h0M77.2 298.1h0M67.7 305.6h0M79.2 309.6h0M98.4 306.2h0M102.4 303.6h0M92.5 314.5h0M74.7 330.3h0M51.8 322.8h0M51.8 328.1h0M51.8 332.8h0M51.8 337.2h0M465.4 257.1h0M473.7 294.7h0M479.2 290.9h0M489.5 288.3h0M457.6 318.9h0M526.9 285.1h0M527.5 289.9h0M534.9 297.3h0M528.5 303.7h0M496.9 318.2h0M509.2 319.8h0M516.2 316.0h0M513.0 324.4h0M497.9 328.5h0M504.0 331.8h0M488.9 335.9h0M521.1 327.6h0M505.0 336.0h0M486.0 333.0h0M525.0 319.0h0M519.0 322.0h0" stroke="#51599F" stroke-width="3.4" stroke-linecap="round" fill="none"/><path d="M106.7 294.6h0M128.7 313.6h0M126.4 267.4h0M119.6 245.6h0M116.7 296.3h0M130.7 324.9h0M130.1 271.8h0M114.9 288.6h0M125.4 335.9h0M120.5 292.5h0M100.0 341.9h0M130.0 320.9h0M99.3 339.4h0M101.6 332.1h0M109.6 218.6h0M133.2 322.0h0M116.5 227.5h0M118.0 240.1h0M118.0 292.8h0M116.4 282.2h0M117.0 255.2h0M118.1 318.2h0M123.0 344.5h0M116.8 257.2h0M125.2 303.8h0M112.6 333.2h0M129.9 281.3h0M116.3 315.6h0M121.3 323.2h0M100.8 334.1h0M105.5 296.5h0M113.3 278.3h0M109.2 313.1h0M138.7 266.8h0M112.9 288.4h0M131.1 295.3h0M122.5 316.3h0M105.4 323.3h0M138.6 265.2h0M117.3 224.5h0M126.2 279.3h0M117.6 277.2h0M124.0 308.7h0M113.0 277.6h0M109.5 344.2h0M107.0 302.2h0M111.6 331.7h0M102.9 194.0h0M106.9 193.0h0M109.9 194.0h0M108.9 196.9h0M111.8 198.9h0M114.8 196.9h0M107.9 202.9h0M110.8 204.9h0M112.8 205.8h0M115.8 206.8h0M113.8 210.8h0M117.8 214.8h0M112.8 216.7h0M120.7 221.7h0M118.8 229.6h0M116.8 231.6h0M115.8 237.5h0M118.8 246.4h0M122.7 249.4h0M116.8 258.3h0M116.2 219.8h0M72.7 69.4h0M73.3 71.8h0M86.9 136.9h0M89.9 139.5h0M97.4 157.3h0M96.8 160.2h0M91.9 171.5h0M92.9 173.5h0M99.4 178.1h0M101.0 180.4h0M105.3 184.4h0M108.3 188.4h0M103.8 197.3h0M99.8 228.3h0M103.4 228.1h0M108.9 258.4h0M108.9 261.0h0M101.8 286.4h0M103.4 284.8h0M110.9 285.8h0M80.6 293.3h0M82.2 294.3h0M100.4 294.7h0M101.8 296.3h0M109.3 301.6h0M101.4 325.4h0M109.3 326.4h0M98.4 334.3h0M97.8 342.2h0M51.8 341.2h0M51.8 344.2h0M535.6 332.5h0M468.6 335.3h0M521.1 289.9h0M522.0 293.1h0M521.1 309.2h0M523.3 311.5h0M533.3 310.8h0M536.2 308.6h0M493.1 334.0h0M481.5 335.0h0M478.6 337.6h0M525.9 326.9h0M530.7 325.3h0M509.8 334.3h0M536.8 310.9h0M542.4 312.7h0M545.2 313.7h0M530.3 320.2h0M535.0 322.9h0M537.4 323.9h0M514.5 329.4h0M514.5 331.3h0M535.0 325.7h0M495.9 333.2h0M498.7 334.1h0M547.0 336.0h0M526.6 336.9h0M537.7 336.9h0M533.0 318.0h0M517.0 336.0h0M512.0 337.0h0M472.0 336.0h0M546.0 309.0h0M544.0 306.0h0" stroke="#3A56AE" stroke-width="3.4" stroke-linecap="round" fill="none"/><path d="M133.1 311.9h0M130.0 252.4h0M163.3 341.9h0M140.2 278.5h0M164.5 324.4h0M151.7 323.2h0M129.7 262.0h0M157.1 320.8h0M142.2 276.3h0M153.7 338.4h0M151.9 330.0h0M143.7 315.9h0M158.1 329.1h0M158.7 340.0h0M154.6 329.1h0M165.7 339.9h0M141.3 320.1h0M129.3 306.5h0M146.4 319.2h0M144.1 296.0h0M135.5 313.7h0M146.5 288.8h0M127.8 330.5h0M143.2 280.2h0M142.7 282.0h0M158.2 316.5h0M125.4 258.3h0M138.6 298.3h0M136.6 282.4h0M151.5 317.0h0M143.0 318.7h0M165.7 339.6h0M122.4 337.2h0M167.0 328.5h0M164.1 343.0h0M156.4 310.9h0M143.9 330.1h0M144.2 291.6h0M157.8 317.6h0M156.4 313.2h0M169.2 340.3h0M168.3 343.2h0M144.8 344.0h0M148.8 342.0h0M136.2 284.7h0M149.1 342.8h0M129.0 334.1h0M140.2 302.8h0M140.6 292.5h0M164.2 336.9h0M107.2 339.6h0M148.7 313.9h0M164.3 332.8h0M159.7 321.8h0M159.6 334.6h0M147.9 314.2h0M142.9 336.3h0M152.0 340.6h0M158.9 326.1h0M133.3 259.0h0M156.2 312.7h0M153.9 313.2h0M151.1 324.8h0M167.5 330.8h0M143.5 301.3h0M144.3 337.1h0M161.2 334.4h0M155.0 322.5h0M141.6 296.9h0M151.5 327.8h0M140.2 304.1h0M144.0 306.3h0M131.4 334.7h0M142.0 330.3h0M147.0 310.5h0M145.9 323.5h0M159.4 342.9h0M150.8 339.7h0M161.7 340.1h0M134.0 327.7h0M158.1 313.6h0M164.4 330.6h0M143.5 309.2h0M149.2 302.9h0M154.0 332.2h0M144.2 292.8h0M155.0 322.3h0M129.4 330.3h0M142.3 302.0h0M151.2 328.6h0M163.7 343.5h0M143.9 313.4h0M138.9 272.7h0M154.3 343.4h0M149.3 297.1h0M163.1 332.4h0M131.5 290.3h0M105.6 311.8h0M158.5 326.0h0M144.2 335.7h0M130.3 261.2h0M156.2 313.9h0M135.0 286.2h0M157.9 336.0h0M153.7 324.4h0M156.8 341.9h0M145.2 300.1h0M170.7 342.1h0M138.3 297.6h0M123.5 323.8h0M154.6 336.2h0M149.6 295.4h0M164.7 340.6h0M137.7 335.5h0M145.0 322.8h0M144.9 304.7h0M132.1 286.9h0M157.1 319.8h0M145.1 307.0h0M164.0 325.5h0M144.0 306.5h0M161.7 338.4h0M147.3 309.5h0M151.8 341.2h0M139.5 315.4h0M122.0 314.7h0M117.0 335.5h0M173.4 339.4h0M152.3 303.5h0M162.4 338.4h0M150.6 299.1h0M143.8 298.2h0M158.9 341.1h0M107.6 330.0h0M130.9 259.2h0M129.5 289.9h0M145.8 315.9h0M142.0 315.5h0M136.3 284.7h0M156.7 336.3h0M128.6 251.2h0M150.8 322.4h0M123.4 340.6h0M110.9 319.2h0M157.9 327.7h0M145.6 303.3h0M140.0 276.9h0M141.7 325.6h0M144.9 289.5h0M170.3 341.9h0M104.0 326.1h0M143.5 344.0h0M145.9 296.3h0M113.5 318.6h0M163.2 344.2h0M149.5 334.7h0M149.3 300.8h0M157.8 320.6h0M139.3 299.8h0M145.9 289.4h0M156.3 320.5h0M149.6 322.7h0M137.5 293.0h0M155.6 308.9h0M153.5 338.4h0M146.4 333.2h0M167.5 340.0h0M150.3 322.8h0M154.2 310.9h0M137.6 275.3h0M125.2 331.5h0M157.0 315.4h0M144.5 341.6h0M155.4 308.5h0M140.5 274.1h0M152.2 324.4h0M154.8 319.9h0M171.8 336.1h0M149.6 342.6h0M166.5 340.0h0M165.9 331.9h0M106.8 326.8h0M143.5 281.4h0M146.5 311.1h0M137.4 296.7h0M151.5 312.1h0M162.0 327.6h0M166.3 341.2h0M151.1 321.3h0M156.4 327.2h0M122.4 236.8h0M135.1 338.0h0M139.9 303.8h0M147.0 319.5h0M173.1 340.8h0M104.5 338.6h0M147.7 309.5h0M152.1 304.4h0M151.7 334.0h0M149.4 318.4h0M144.4 290.4h0M131.4 330.3h0M133.7 335.5h0M134.6 269.9h0M159.5 317.6h0M152.6 332.7h0M151.1 320.6h0M134.7 281.5h0M156.7 317.6h0M150.7 335.8h0M160.0 333.1h0M152.6 310.6h0M136.7 319.2h0M157.0 318.5h0M168.7 333.4h0M148.5 292.0h0M169.9 343.1h0M144.2 301.8h0M140.2 318.5h0M140.3 275.9h0M149.1 323.2h0M152.9 342.9h0M157.4 325.6h0M157.3 334.9h0M161.7 338.0h0M153.1 335.1h0M112.2 340.4h0M142.2 299.9h0M139.4 320.1h0M147.6 328.0h0M157.5 324.0h0M139.8 343.0h0M159.5 325.0h0M152.5 335.9h0M135.5 333.3h0M163.3 339.9h0M140.6 281.7h0M165.2 338.0h0M147.4 332.8h0M142.6 283.3h0M165.1 331.8h0M124.4 235.0h0M114.0 320.8h0M165.5 332.5h0M143.9 284.5h0M138.6 293.9h0M163.4 329.1h0M149.3 323.9h0M150.2 317.8h0M171.3 339.2h0M163.8 332.6h0M137.9 281.8h0M167.8 332.9h0M129.1 343.0h0M159.5 342.9h0M143.5 281.8h0M149.2 318.1h0M152.5 319.4h0M114.0 342.7h0M126.7 330.9h0M161.2 330.6h0M130.4 330.1h0M153.1 315.6h0M148.4 343.8h0M110.9 320.3h0M158.9 316.9h0M157.5 329.2h0M138.0 276.0h0M140.8 319.0h0M124.2 294.3h0M166.0 336.2h0M138.6 281.4h0M149.2 304.8h0M153.5 308.5h0M155.8 322.0h0M148.5 338.9h0M155.4 342.6h0M137.0 300.1h0M160.9 330.3h0M153.1 308.8h0M148.1 328.4h0M152.1 309.4h0M139.2 314.7h0M129.3 289.5h0M165.9 330.1h0M139.9 298.4h0M139.5 295.7h0M165.2 341.8h0M148.4 327.4h0M157.5 335.3h0M169.6 335.5h0M155.9 336.4h0M156.5 334.7h0M165.9 328.8h0M148.5 308.8h0M143.3 340.8h0M149.3 308.6h0M149.2 324.6h0M140.0 281.6h0M133.8 303.0h0M138.1 303.7h0M156.7 334.9h0M160.5 338.2h0M129.1 305.7h0M167.4 337.7h0M119.7 341.8h0M137.3 327.0h0M155.9 309.9h0M130.1 249.0h0M135.9 311.6h0M164.0 341.0h0M106.2 336.3h0M129.5 312.7h0M143.9 287.2h0M163.8 325.0h0M131.2 342.3h0M133.9 314.5h0M155.3 335.9h0M147.4 316.6h0M149.5 314.8h0M138.9 269.5h0M132.1 337.2h0M160.2 319.8h0M159.8 327.1h0M142.5 291.8h0M127.9 331.0h0M170.2 339.0h0M149.7 314.6h0M153.3 344.5h0M150.1 336.2h0M155.2 339.5h0M142.1 297.8h0M124.0 341.8h0M147.7 326.0h0M152.1 332.9h0M168.0 337.1h0M142.2 284.3h0M164.5 339.1h0M145.4 323.6h0M170.2 336.5h0M134.8 315.1h0M129.0 250.1h0M139.8 302.6h0M140.5 286.7h0M145.6 301.3h0M150.3 334.7h0M144.8 343.4h0M132.1 268.5h0M145.4 297.7h0M134.3 257.9h0M125.9 293.5h0M141.5 299.9h0M140.8 303.8h0M165.2 333.4h0M124.5 294.7h0M141.2 302.7h0M158.1 334.6h0M142.0 342.4h0M132.7 271.8h0M158.1 321.3h0M162.8 332.3h0M158.9 339.7h0M140.8 342.0h0M155.9 317.0h0M161.6 323.3h0M149.2 334.1h0M142.2 294.1h0M153.7 339.2h0M122.3 236.7h0M146.0 321.6h0M166.1 344.5h0M138.5 289.8h0M156.8 341.9h0M153.4 339.8h0M151.6 315.2h0M165.4 335.4h0M143.9 287.0h0M137.4 285.4h0M115.0 215.7h0M129.6 342.4h0M130.7 337.0h0M148.6 337.9h0M152.3 304.9h0M149.4 304.1h0M140.5 300.8h0M163.3 329.2h0M159.3 333.7h0M127.0 254.8h0M152.4 311.8h0M140.3 323.7h0M143.5 291.7h0M154.6 333.1h0M137.4 323.4h0M162.4 328.1h0M141.1 330.2h0M135.7 273.3h0M145.8 288.8h0M143.4 337.4h0M160.8 338.7h0M173.6 343.1h0M129.1 301.3h0M153.7 326.1h0M164.4 336.5h0M147.1 302.7h0M139.9 289.1h0M157.3 335.7h0M137.7 302.1h0M167.8 331.0h0M146.5 286.6h0M148.4 297.9h0M155.5 329.8h0M153.0 315.7h0M154.4 324.8h0M135.8 314.9h0M143.2 291.6h0M163.6 327.9h0M145.7 286.0h0M121.7 317.0h0M156.1 337.6h0M138.4 283.4h0M157.5 337.5h0M145.6 315.6h0M150.7 313.2h0M151.7 325.2h0M144.8 294.3h0M168.3 338.4h0M153.6 339.8h0M145.6 315.1h0M143.8 306.6h0M121.0 312.1h0M167.7 337.4h0M156.9 332.2h0M165.5 338.3h0M140.4 305.7h0M133.9 294.2h0M123.6 241.8h0M148.3 315.5h0M157.1 325.2h0M165.3 333.0h0M135.7 288.4h0M141.9 294.8h0M153.0 325.8h0M154.7 318.5h0M125.8 296.9h0M141.8 306.8h0M151.3 303.3h0M138.4 278.3h0M142.4 280.8h0M143.8 280.4h0M151.2 314.7h0M146.9 286.9h0M155.2 325.8h0M145.3 310.4h0M157.4 338.8h0M150.8 342.6h0M149.2 329.9h0M125.3 326.4h0M145.8 311.3h0M145.6 343.2h0M144.4 335.9h0M139.9 294.3h0M165.0 341.2h0M143.0 304.2h0M137.5 278.2h0M154.2 343.8h0M150.7 311.2h0M144.1 323.6h0M167.9 338.3h0M162.9 337.1h0M142.5 291.0h0M139.8 316.1h0M140.3 293.7h0M164.2 324.7h0M161.0 344.1h0M147.3 325.2h0M143.3 280.6h0M156.3 341.2h0M162.6 321.9h0M139.8 316.8h0M145.2 291.8h0M137.2 279.1h0M129.3 334.9h0M161.4 318.8h0M170.0 334.6h0M156.1 341.3h0M151.4 325.1h0M159.6 334.2h0M152.5 309.8h0M168.5 339.8h0M140.1 333.8h0M154.4 343.3h0M115.9 340.5h0M149.9 321.6h0M123.7 340.2h0M165.2 329.0h0M160.8 340.6h0M157.3 340.2h0M148.0 324.5h0M143.2 276.8h0M128.2 248.4h0M142.7 293.5h0M142.7 340.0h0M160.8 325.0h0M141.8 306.6h0M151.2 313.6h0M138.4 317.0h0M133.2 297.7h0M149.4 329.4h0M162.3 334.6h0M138.3 275.2h0M136.3 306.9h0M138.5 293.8h0M157.9 334.8h0M147.5 301.4h0M166.4 338.7h0M154.9 324.6h0M134.4 327.9h0M150.3 344.5h0M148.8 329.8h0M159.8 330.5h0M129.4 279.6h0M134.5 340.5h0M145.7 293.6h0M145.4 292.0h0M144.3 317.2h0M135.8 307.3h0M162.1 335.1h0M148.8 337.0h0M140.8 282.7h0M168.1 331.6h0M144.4 324.1h0M159.5 329.3h0M165.6 336.1h0M138.4 293.3h0M157.7 339.9h0M123.7 329.2h0M137.9 292.6h0M144.6 318.5h0M159.6 333.1h0M144.9 285.0h0M152.2 304.2h0M147.1 318.1h0M152.7 304.9h0M144.6 316.9h0M167.1 339.2h0M138.4 282.2h0M142.1 290.1h0M151.6 336.5h0M154.1 329.8h0M159.5 316.7h0M149.4 308.5h0M134.5 275.4h0M142.0 314.6h0M147.2 327.8h0M152.8 339.9h0M152.1 331.3h0M141.8 277.2h0M155.9 321.2h0M129.8 263.6h0M150.7 303.3h0M147.2 300.3h0M155.2 336.7h0M159.4 331.6h0M163.2 323.5h0M137.1 339.9h0M147.2 327.3h0M140.7 321.5h0M154.4 312.7h0M150.4 342.0h0M105.1 313.3h0M150.7 307.6h0M150.5 299.3h0M146.1 319.7h0M160.1 334.9h0M145.1 301.7h0M166.7 339.1h0M118.5 280.8h0M126.4 293.2h0M166.5 332.3h0M139.8 281.8h0M144.4 302.5h0M159.7 322.3h0M149.3 297.2h0M156.5 319.9h0M165.9 330.4h0M107.1 333.0h0M128.1 335.4h0M112.9 343.7h0M127.8 256.9h0M152.4 325.6h0M152.0 337.6h0M146.4 293.8h0M153.5 336.5h0M145.7 344.1h0M144.8 307.1h0M138.1 332.7h0M156.0 340.9h0M147.1 337.5h0M133.5 304.3h0M152.2 344.4h0M146.5 342.9h0M137.5 309.0h0M165.8 341.6h0M154.6 330.0h0M158.5 323.6h0M145.7 320.2h0M115.4 338.4h0M170.0 340.3h0M135.6 283.5h0M126.7 323.0h0M139.3 325.6h0M152.4 324.7h0M159.8 322.4h0M140.1 342.0h0M140.6 283.6h0M130.9 341.8h0M145.6 291.5h0M150.3 323.2h0M150.9 341.2h0M166.1 328.1h0M165.1 327.2h0M140.1 296.3h0M128.7 253.7h0M137.5 286.5h0M153.9 339.7h0M127.9 280.1h0M149.6 310.9h0M140.6 285.8h0M145.2 286.6h0M152.5 318.4h0M144.2 279.9h0M156.4 326.3h0M145.8 296.1h0M151.3 300.5h0M151.0 329.0h0M142.8 335.4h0M144.8 290.0h0M168.0 334.1h0M155.6 335.0h0M147.2 341.3h0M161.9 342.7h0M154.7 344.3h0M151.7 310.9h0M142.3 322.1h0M138.0 276.4h0M163.1 341.0h0M156.7 312.7h0M140.6 304.2h0M145.6 328.6h0M158.9 339.7h0M164.7 325.2h0M149.3 306.3h0M118.8 313.7h0M138.9 275.5h0M150.9 309.4h0M143.3 294.8h0M152.3 313.9h0M150.7 308.9h0M153.8 330.7h0M139.4 334.8h0M158.5 318.5h0M172.2 339.0h0M144.3 301.2h0M173.2 341.7h0M171.6 343.4h0M137.3 326.4h0M163.4 323.4h0M141.0 287.9h0M143.4 318.9h0M135.7 329.4h0M119.4 340.8h0M135.8 329.6h0M147.5 327.8h0M128.7 254.0h0M144.2 327.7h0M146.1 330.0h0M152.5 311.8h0M120.7 334.5h0M151.5 320.0h0M146.4 310.8h0M139.4 300.9h0M143.6 283.9h0M147.2 325.0h0M136.9 298.6h0M126.6 310.1h0M142.9 312.6h0M157.6 337.6h0M150.9 305.3h0M120.2 337.3h0M137.9 287.8h0M146.6 300.2h0M134.0 279.5h0M161.6 322.0h0M152.8 316.3h0M141.4 285.0h0M151.1 329.5h0M158.2 341.4h0M157.9 331.8h0M161.5 334.9h0M150.4 330.3h0M149.5 315.4h0M141.4 271.9h0M151.2 314.4h0M143.3 309.5h0M140.2 303.0h0M152.7 325.3h0M147.7 341.4h0M135.5 328.5h0M136.5 285.2h0M141.5 327.5h0M124.3 300.5h0M140.9 298.5h0M153.9 313.7h0M171.4 338.0h0M156.2 324.3h0M159.4 327.7h0M173.8 340.4h0M145.2 317.9h0M156.9 333.0h0M156.2 326.4h0M150.7 335.1h0M142.8 297.3h0M130.1 300.6h0M144.3 301.7h0M156.9 331.9h0M152.6 332.7h0M157.4 338.6h0M133.1 277.7h0M160.3 338.2h0M149.5 317.3h0M159.0 327.5h0M155.4 325.3h0M147.5 300.8h0M143.4 336.2h0M136.3 273.9h0M153.0 338.0h0M124.0 297.3h0M147.2 341.7h0M144.1 327.2h0M116.1 343.9h0M155.9 337.0h0M168.7 339.2h0M135.7 280.7h0M154.8 318.2h0M140.2 323.0h0M158.5 336.7h0M152.7 343.4h0M168.1 330.7h0M149.5 296.0h0M147.8 324.9h0M147.2 311.7h0M150.1 328.2h0M156.2 330.4h0M156.9 336.8h0M146.4 306.8h0M150.4 305.5h0M152.3 332.0h0M140.6 334.1h0M154.9 331.3h0M154.2 331.8h0M143.5 295.2h0M144.4 311.7h0M160.3 335.3h0M152.9 311.6h0M137.2 298.4h0M138.2 281.2h0M152.7 338.1h0M157.0 335.2h0M142.7 303.2h0M141.9 294.2h0M156.0 325.9h0M135.1 329.6h0M108.3 330.6h0M135.2 306.1h0M152.3 318.7h0M137.6 289.1h0M159.3 323.3h0M132.6 263.2h0M138.0 287.2h0M146.3 289.4h0M133.7 343.9h0M153.6 310.7h0M148.6 299.0h0M154.6 332.8h0M144.9 286.9h0M164.5 332.0h0M155.8 324.6h0M131.0 303.7h0M141.3 272.2h0M104.4 338.6h0M157.9 324.6h0M130.3 256.3h0M171.6 338.3h0M144.1 319.2h0M148.5 334.0h0M149.9 316.1h0M117.0 339.4h0M153.2 312.2h0M134.5 260.3h0M144.1 337.8h0M145.2 299.9h0M154.3 341.6h0M130.4 287.4h0M138.0 277.6h0M126.4 290.1h0M132.1 264.9h0M121.1 331.9h0M152.3 341.2h0M133.1 342.7h0M159.5 319.0h0M161.7 319.9h0M142.8 296.4h0M158.0 333.1h0M142.0 277.3h0M157.6 343.1h0M104.1 317.5h0M137.9 278.2h0M151.0 303.4h0M141.7 290.4h0M144.6 286.1h0M148.8 322.1h0M136.9 283.6h0M155.2 308.1h0M128.8 299.1h0M159.5 327.8h0M123.9 309.5h0M163.2 326.0h0M123.1 321.3h0M138.9 282.3h0M135.4 262.5h0M139.0 311.7h0M139.6 278.5h0M135.3 284.4h0M155.8 309.8h0M137.2 340.1h0M124.7 249.4h0M141.6 295.8h0M144.8 295.7h0M161.8 338.1h0M144.2 308.0h0M148.9 328.8h0M159.2 343.5h0M105.6 335.6h0M148.3 291.2h0M145.4 313.5h0M157.4 328.3h0M157.7 339.8h0M156.7 325.9h0M149.6 344.4h0M147.8 318.9h0M144.7 307.4h0M135.1 316.0h0M154.2 313.3h0M140.5 278.4h0M173.5 342.7h0M171.3 338.4h0M119.8 333.8h0M136.5 316.1h0M146.3 329.7h0M151.8 325.6h0M169.2 333.0h0M155.8 341.6h0M153.4 337.7h0M144.9 287.0h0M128.7 305.4h0M105.9 315.2h0M152.8 308.2h0M146.7 309.9h0M125.9 240.2h0M143.2 299.4h0M163.0 334.6h0M148.3 337.8h0M148.0 317.9h0M148.4 291.1h0M138.5 336.7h0M139.2 327.4h0M125.1 331.6h0M157.2 338.7h0M143.7 314.7h0M158.5 315.3h0M169.3 343.4h0M119.5 337.0h0M155.2 324.3h0M151.2 316.1h0M142.2 312.9h0M149.7 316.1h0M148.8 308.4h0M133.6 278.1h0M172.8 342.2h0M171.7 339.5h0M151.4 338.7h0M156.2 341.5h0M138.4 292.2h0M154.5 342.8h0M159.9 344.1h0M153.6 320.5h0M158.9 335.4h0M146.0 293.0h0M150.3 313.5h0M116.4 279.4h0M168.8 337.5h0M156.9 337.1h0M144.5 301.4h0M106.8 339.1h0M132.4 306.1h0M152.6 317.6h0M162.4 330.4h0M149.1 300.4h0M152.4 336.1h0M172.3 340.9h0M140.7 294.7h0M134.1 263.6h0M127.2 330.1h0M157.7 337.2h0M152.0 323.9h0M166.9 330.8h0M151.4 321.3h0M153.7 326.4h0M147.5 340.0h0M156.0 338.7h0M162.2 325.8h0M151.2 330.1h0M145.8 334.6h0M138.5 274.1h0M139.0 278.3h0M144.2 314.6h0M139.2 298.6h0M170.1 339.1h0M165.0 335.7h0M145.2 321.9h0M163.5 340.9h0M119.5 341.7h0M147.1 340.0h0M142.7 290.8h0M135.2 309.5h0M144.8 299.8h0M139.0 303.0h0M144.3 324.7h0M172.2 338.6h0M138.9 295.9h0M153.2 331.9h0M172.3 341.6h0M152.7 334.2h0M153.6 317.0h0M147.9 301.1h0M141.2 299.5h0M146.7 286.8h0M140.4 281.8h0M143.9 293.5h0M151.4 331.4h0M128.1 259.3h0M136.4 281.9h0M152.6 335.2h0M158.5 343.3h0M145.5 342.0h0M139.0 313.3h0M138.3 326.7h0M145.8 287.7h0M157.7 330.3h0M141.7 287.4h0M156.2 343.3h0M148.3 307.8h0M132.4 313.2h0M142.7 283.3h0M150.5 328.6h0M146.2 285.6h0M145.8 287.7h0M149.9 313.0h0M156.7 318.1h0M140.6 299.0h0M135.9 342.8h0M115.8 212.8h0M118.8 219.7h0M116.8 221.7h0M117.8 234.6h0M119.8 236.5h0M124.7 237.5h0M123.7 241.5h0M125.7 243.5h0M126.7 246.4h0M128.7 244.5h0M127.7 249.4h0M129.7 250.4h0M127.7 253.4h0M131.6 255.3h0M125.7 258.3h0M132.6 259.3h0M126.7 264.3h0M129.7 266.2h0M106.9 186.8h0M105.3 190.3h0M103.0 314.5h0M105.0 316.1h0M106.3 334.3h0M107.3 336.3h0M108.3 342.2h0M547.5 326.2h0M545.2 316.6h0M546.3 330.0h0M544.8 318.7h0M542.5 330.3h0M546.5 328.2h0M541.2 318.1h0M542.8 336.0h0M545.3 318.7h0M543.3 322.9h0M531.8 329.9h0M546.4 328.2h0M543.0 322.5h0M546.6 324.6h0M542.2 328.1h0M538.7 319.2h0M541.4 318.7h0M543.7 319.8h0M541.4 322.0h0M544.8 322.9h0M528.4 326.7h0M536.8 329.4h0M539.6 327.6h0M543.3 325.7h0M546.1 325.7h0M544.2 328.5h0M547.0 329.4h0M519.2 334.1h0M521.0 336.0h0M524.7 335.0h0M522.9 333.2h0M529.4 332.2h0M531.2 333.2h0M535.9 334.1h0M538.7 335.0h0M541.4 333.2h0M543.7 335.0h0M546.1 333.2h0M542.4 336.9h0M540.0 330.0h0M543.0 331.0h0M545.0 318.0h0M546.0 321.0h0M539.0 316.0h0M529.0 330.0h0" stroke="#2B53B3" stroke-width="3.4" stroke-linecap="round" fill="none"/><path d="M242.6 272.8h0M318.7 334.6h0M324.1 340.0h0M260.6 325.4h0M275.8 304.5h0M311.7 331.3h0M284.2 290.4h0M288.1 339.4h0M281.8 278.6h0M260.0 276.8h0M299.3 330.6h0M314.3 337.2h0M282.3 308.3h0M257.4 308.2h0M334.0 18.6h0M323.3 28.5h0M309.2 47.6h0M314.7 136.3h0M328.8 165.0h0M341.4 182.1h0M278.9 193.6h0M288.0 209.7h0M257.6 229.5h0M265.3 229.0h0M249.7 234.4h0M282.3 234.4h0M254.1 243.8h0M250.9 249.7h0M260.3 252.2h0M263.3 255.4h0M321.9 257.9h0M238.1 263.6h0M254.1 267.1h0M264.5 268.5h0M301.6 267.1h0M307.8 270.3h0M284.8 271.0h0M280.1 273.5h0M238.1 271.0h0M327.6 283.5h0M275.7 281.5h0M253.0 283.9h0M254.0 290.2h0M273.4 285.8h0M266.8 294.2h0M272.2 294.8h0M274.8 299.7h0M306.4 304.7h0M269.8 307.6h0M285.6 310.6h0M271.4 312.6h0M301.5 315.5h0M291.6 317.9h0M329.2 332.4h0M293.6 343.3h0M319.3 346.2h0M232.0 292.0h0M345.0 309.7h0M345.0 314.1h0M345.0 326.7h0M345.0 331.9h0" stroke="#DA5A3E" stroke-width="3.4" stroke-linecap="round" fill="none"/><path d="M609.9 293.4h0M690.0 20.4h0M678.4 34.8h0M668.5 91.2h0M670.2 109.1h0M686.7 133.6h0M649.0 151.1h0M675.7 160.9h0M681.7 165.3h0M668.3 170.1h0M646.9 178.7h0M650.5 189.7h0M656.4 189.1h0M664.2 190.6h0M674.8 187.0h0M672.8 193.6h0M638.0 198.0h0M645.1 204.0h0M645.4 212.0h0M661.5 218.8h0M641.2 232.2h0M630.7 236.7h0M653.9 236.7h0M657.8 239.7h0M692.1 238.7h0M632.7 242.7h0M643.6 244.1h0M630.3 247.2h0M641.6 248.2h0M624.2 249.2h0M631.1 254.6h0M644.0 254.0h0M647.5 260.5h0M625.3 267.0h0M629.3 268.4h0M676.8 272.0h0M647.5 282.9h0M660.0 280.9h0M667.3 280.3h0M614.9 284.9h0M624.8 288.8h0M629.7 292.5h0M650.4 294.7h0M664.3 292.1h0M634.0 302.2h0M643.5 300.8h0M640.9 306.0h0M645.3 306.9h0M647.9 310.3h0M653.0 314.3h0M654.8 318.1h0M659.1 316.4h0M629.7 322.5h0M634.9 323.3h0M644.4 321.6h0M640.9 326.8h0M650.4 324.2h0M654.8 329.4h0M662.6 326.8h0M696.2 314.1h0M667.5 329.5h0M687.7 326.5h0M717.0 325.1h0M717.0 331.1h0M686.7 335.8h0M674.8 337.4h0" stroke="#D64A56" stroke-width="3.4" stroke-linecap="round" fill="none"/><path d="M237.9 282.9h0M253.2 318.4h0M263.9 314.5h0M258.0 344.0h0M239.5 303.9h0M241.9 300.0h0M250.8 297.7h0M317.4 316.1h0M298.8 339.0h0M294.4 339.2h0M254.0 306.0h0M234.0 298.8h0M254.5 321.5h0M249.1 319.8h0M239.2 288.4h0M262.4 314.9h0M230.2 300.4h0M249.1 290.8h0M325.8 326.4h0M265.0 304.7h0M285.1 315.7h0M295.4 329.0h0M282.5 321.7h0M290.2 322.4h0M311.3 323.6h0M258.6 318.4h0M237.7 297.0h0M235.8 284.4h0M245.1 318.5h0M257.3 320.9h0M246.5 276.9h0M311.6 344.4h0M280.3 314.4h0M267.1 324.7h0M312.4 325.1h0M238.1 279.0h0M244.7 280.0h0M264.9 286.2h0M263.9 289.8h0M252.0 294.8h0M260.9 296.7h0M262.9 299.7h0M264.9 301.7h0M287.6 306.6h0M289.6 308.6h0M258.9 314.0h0M267.8 316.0h0M268.8 317.5h0M320.3 315.5h0M278.7 318.5h0M284.7 317.5h0M278.7 323.5h0M283.7 323.5h0M301.5 326.4h0M323.3 327.4h0M270.8 327.4h0M260.9 329.4h0M271.8 331.4h0M288.6 333.0h0M283.7 335.3h0M285.6 333.4h0M295.5 336.3h0M299.5 343.3h0M315.3 345.2h0M331.2 343.2h0M333.9 343.2h0M301.1 345.8h0M226.2 297.3h0M240.0 288.0h0M246.0 292.0h0M222.0 309.0h0M250.0 305.0h0M345.0 318.6h0M345.0 322.3h0M345.0 337.0h0M345.0 339.6h0M345.0 342.2h0M345.0 344.6h0" stroke="#E2462E" stroke-width="3.4" stroke-linecap="round" fill="none"/><path d="M618.0 301.3h0M652.0 171.3h0M649.9 173.7h0M652.9 177.8h0M654.4 180.2h0M655.0 182.3h0M638.6 227.8h0M642.2 226.4h0M626.7 275.3h0M624.8 276.7h0M622.8 279.3h0M635.6 279.7h0M633.7 282.3h0M632.7 284.9h0M618.8 288.8h0M621.0 291.3h0M614.9 294.7h0M617.5 293.0h0M623.6 299.1h0M625.3 298.2h0M629.7 301.7h0M620.1 302.5h0M622.7 306.0h0M624.5 307.7h0M617.5 307.7h0M619.3 310.3h0M625.3 311.5h0M636.6 315.5h0M638.3 317.3h0M627.1 326.8h0M637.5 331.1h0M640.1 331.6h0M641.8 332.9h0M645.3 330.3h0M648.7 332.0h0M708.5 333.1h0M707.1 335.0h0" stroke="#E03A44" stroke-width="3.4" stroke-linecap="round" fill="none"/><path d="M210.6 333.0h0M242.0 316.8h0M233.6 325.8h0M243.9 330.8h0M219.0 319.6h0M217.3 330.4h0M232.5 325.3h0M202.7 343.4h0M204.3 339.7h0M232.4 339.7h0M235.3 306.2h0M241.2 338.7h0M230.1 327.3h0M254.4 337.9h0M209.2 329.0h0M220.3 342.7h0M223.0 343.8h0M227.5 311.1h0M213.6 333.8h0M221.8 341.1h0M253.7 334.9h0M215.7 338.8h0M229.3 321.1h0M216.5 344.6h0M218.2 326.9h0M214.9 334.8h0M278.6 341.7h0M242.5 340.5h0M258.7 336.4h0M208.2 339.1h0M238.2 327.0h0M236.2 326.2h0M238.8 322.5h0M243.5 344.3h0M276.6 328.0h0M215.7 333.9h0M234.7 327.3h0M221.0 331.8h0M226.0 342.3h0M228.4 329.2h0M227.1 344.2h0M223.2 339.5h0M222.0 339.9h0M238.4 303.1h0M231.1 330.1h0M227.4 334.7h0M240.8 331.2h0M216.3 343.9h0M246.9 300.8h0M227.2 340.7h0M223.9 340.7h0M264.8 333.2h0M205.3 339.9h0M237.4 339.5h0M225.3 337.4h0M207.7 332.2h0M219.1 336.6h0M221.1 322.4h0M226.3 331.3h0M209.3 342.4h0M221.6 332.1h0M230.3 340.9h0M204.7 337.8h0M214.4 334.9h0M225.4 322.6h0M207.8 331.3h0M219.9 334.5h0M249.6 300.7h0M230.3 336.3h0M253.6 336.0h0M254.8 315.2h0M215.4 328.3h0M223.1 309.7h0M248.1 328.9h0M207.4 335.7h0M226.5 323.8h0M227.0 308.8h0M216.5 321.6h0M221.8 335.4h0M242.0 329.6h0M218.3 329.9h0M267.8 343.1h0M222.3 324.3h0M214.2 333.4h0M222.0 343.1h0M214.8 322.5h0M206.6 342.1h0M213.1 328.3h0M248.6 312.2h0M220.1 324.9h0M213.1 336.0h0M241.3 312.8h0M214.4 326.0h0M248.9 344.1h0M227.2 335.3h0M214.7 331.1h0M233.5 341.3h0M253.3 314.3h0M231.2 340.1h0M228.6 329.0h0M233.8 333.1h0M215.0 327.4h0M227.1 336.3h0M220.4 338.3h0M249.0 340.5h0M242.6 326.9h0M213.0 339.5h0M213.1 343.3h0M223.2 326.8h0M219.5 328.4h0M228.9 312.6h0M224.1 344.4h0M215.6 333.3h0M212.8 343.6h0M255.6 326.5h0M246.7 331.6h0M218.8 318.8h0M234.1 334.6h0M232.2 326.6h0M223.4 329.4h0M265.5 337.0h0M261.2 336.0h0M237.5 321.3h0M225.7 337.3h0M232.2 341.7h0M245.0 332.5h0M244.7 313.3h0M209.0 332.0h0M241.6 321.6h0M244.0 340.1h0M232.2 320.2h0M216.7 339.7h0M269.9 321.8h0M211.4 339.0h0M214.8 325.1h0M215.2 336.3h0M231.6 327.9h0M204.2 338.4h0M252.4 341.8h0M224.2 330.7h0M273.0 343.1h0M217.7 334.7h0M217.8 327.2h0M255.1 337.3h0M209.2 338.6h0M212.2 327.0h0M222.9 320.3h0M230.4 339.5h0M246.6 299.8h0M223.0 337.8h0M212.3 333.6h0M204.3 335.2h0M203.4 343.2h0M218.3 335.4h0M233.6 334.5h0M248.5 341.3h0M213.0 336.8h0M205.2 342.0h0M211.7 335.8h0M217.2 335.9h0M243.2 329.5h0M205.3 338.5h0M218.4 343.6h0M217.9 330.7h0M230.1 327.7h0M227.6 318.6h0M219.9 337.7h0M228.6 324.2h0M209.9 343.3h0M225.8 327.0h0M203.3 343.9h0M233.0 330.1h0M211.7 330.1h0M224.9 327.0h0M206.7 336.0h0M221.2 335.0h0M228.0 327.2h0M235.9 334.9h0M224.6 328.8h0M262.5 320.6h0M210.7 338.4h0M223.9 324.7h0M212.0 337.3h0M212.2 328.9h0M240.6 327.8h0M214.9 339.6h0M224.6 334.1h0M276.9 327.3h0M220.6 338.4h0M231.7 330.6h0M239.0 331.6h0M254.2 332.1h0M225.2 336.7h0M233.1 323.6h0M216.4 322.2h0M243.0 340.3h0M227.1 321.9h0M208.4 331.9h0M207.7 334.5h0M272.6 336.3h0M220.6 325.0h0M220.7 326.1h0M217.2 331.2h0M229.4 337.5h0M288.3 326.6h0M203.7 339.6h0M251.5 335.0h0M231.6 336.3h0M206.2 335.3h0M237.4 330.5h0M234.7 332.1h0M219.7 329.0h0M229.2 323.0h0M205.7 339.5h0M243.6 327.7h0M231.3 335.7h0M227.5 313.5h0M261.3 333.6h0M218.0 326.5h0M203.9 338.6h0M204.1 338.3h0M216.5 341.5h0M227.6 339.0h0M237.3 323.0h0M224.9 332.1h0M227.4 332.8h0M230.5 341.6h0M219.6 336.9h0M217.4 320.3h0M203.9 337.2h0M242.8 336.5h0M216.3 341.0h0M231.6 332.9h0M218.4 337.0h0M218.6 331.7h0M211.9 329.5h0M234.7 331.6h0M224.1 330.2h0M223.8 334.4h0M217.4 322.6h0M228.6 306.1h0M229.4 321.3h0M223.2 335.5h0M217.8 326.8h0M246.7 329.1h0M211.8 337.0h0M224.9 338.1h0M206.7 337.8h0M218.8 323.6h0M232.6 342.2h0M305.3 340.9h0M264.0 319.9h0M226.0 334.3h0M209.5 328.7h0M237.1 337.5h0M232.0 326.6h0M221.7 341.4h0M214.6 326.5h0M206.9 333.5h0M242.1 326.6h0M214.6 338.4h0M217.7 328.9h0M251.7 327.7h0M218.4 335.4h0M240.4 340.4h0M220.3 329.1h0M220.7 332.4h0M226.8 322.7h0M216.4 340.1h0M213.7 324.3h0M248.4 322.5h0M207.1 332.2h0M238.2 336.1h0M213.3 335.2h0M253.8 333.1h0M224.3 332.8h0M230.0 325.5h0M239.0 323.2h0M228.6 331.5h0M240.2 313.9h0M307.9 339.5h0M272.2 337.5h0M234.7 329.0h0M227.7 311.3h0M212.5 327.0h0M205.7 340.7h0M235.8 334.4h0M241.2 336.0h0M218.5 336.5h0M253.3 343.8h0M233.8 315.4h0M208.2 332.3h0M238.7 331.9h0M212.2 336.4h0M229.3 343.3h0M221.1 341.9h0M221.4 333.9h0M229.3 335.0h0M221.8 335.6h0M225.4 324.7h0M265.7 337.5h0M255.3 326.2h0M203.2 339.1h0M248.3 329.3h0M225.1 321.4h0M211.9 325.8h0M247.2 327.8h0M221.7 343.5h0M216.9 341.4h0M212.0 327.9h0M229.6 334.1h0M227.7 322.0h0M216.6 331.2h0M242.2 321.7h0M205.6 336.2h0M209.8 329.3h0M270.5 329.4h0M251.8 335.9h0M228.9 337.5h0M210.7 341.8h0M241.5 314.5h0M240.2 333.8h0M231.6 333.4h0M251.3 332.6h0M234.0 340.1h0M217.7 323.3h0M206.7 339.1h0M222.0 322.5h0M218.3 324.2h0M221.8 317.5h0M218.5 335.4h0M219.4 336.4h0M276.6 329.9h0M210.9 338.4h0M216.1 339.0h0M208.6 341.9h0M224.0 320.2h0M259.1 337.8h0M267.1 332.5h0M238.8 329.0h0M229.8 329.3h0M234.5 304.0h0M244.3 312.5h0M213.8 329.7h0M214.1 327.9h0M207.0 339.6h0M213.7 339.4h0M236.1 336.0h0M227.9 332.5h0M227.4 337.4h0M210.9 338.4h0M234.3 322.3h0M204.4 343.3h0M217.9 325.4h0M239.0 326.0h0M289.4 324.0h0M234.5 344.3h0M230.9 341.0h0M213.2 330.6h0M237.8 318.4h0M225.0 328.2h0M228.8 342.1h0M220.8 332.0h0M225.8 321.2h0M223.0 330.3h0M219.6 336.9h0M219.9 327.2h0M222.0 318.7h0M220.6 330.5h0M217.2 337.5h0M233.1 327.3h0M216.3 329.4h0M218.0 330.0h0M229.5 308.6h0M209.2 336.0h0M229.5 332.0h0M219.9 340.3h0M227.1 330.2h0M211.8 334.1h0M235.3 314.3h0M219.5 343.9h0M218.4 338.7h0M230.6 317.3h0M220.0 322.7h0M267.8 342.6h0M222.7 321.4h0M214.9 344.6h0M231.5 322.2h0M221.5 314.7h0M226.2 324.3h0M248.5 324.7h0M236.6 309.1h0M232.1 313.6h0M218.6 340.9h0M230.6 309.5h0M244.4 332.2h0M226.2 317.2h0M229.7 329.9h0M224.3 331.5h0M236.0 325.3h0M229.3 326.2h0M226.8 333.0h0M260.5 338.0h0M245.2 335.6h0M231.8 311.6h0M228.9 327.2h0M217.7 340.3h0M229.8 335.9h0M241.0 332.9h0M214.1 336.8h0M227.0 340.0h0M233.2 321.2h0M208.3 330.5h0M222.8 342.9h0M212.1 328.2h0M213.2 340.2h0M258.7 338.1h0M221.6 333.1h0M222.1 328.3h0M247.2 330.5h0M228.7 336.2h0M226.3 330.2h0M252.6 328.1h0M216.1 343.6h0M216.5 325.3h0M233.4 323.6h0M218.0 328.6h0M219.2 329.6h0M232.4 335.1h0M233.9 332.0h0M251.4 314.3h0M227.5 321.8h0M259.9 343.7h0M214.1 324.7h0M236.7 326.4h0M224.6 341.9h0M297.6 322.4h0M202.9 338.5h0M222.7 334.6h0M212.8 334.3h0M263.4 332.2h0M208.8 330.8h0M205.6 337.5h0M256.9 342.1h0M219.2 327.9h0M205.8 337.3h0M235.6 319.5h0M251.8 332.3h0M228.3 338.4h0M213.6 326.1h0M227.4 325.5h0M219.2 332.3h0M231.3 313.1h0M224.6 344.0h0M234.6 327.9h0M238.6 321.0h0M223.1 342.5h0M227.2 320.3h0M244.0 331.9h0M206.7 341.4h0M223.8 337.4h0M227.6 323.9h0M232.0 328.3h0M219.0 326.3h0M256.0 325.8h0M232.8 328.6h0M244.0 332.3h0M235.8 295.8h0M238.5 318.3h0M204.8 339.0h0M225.0 314.1h0M228.0 336.3h0M206.5 344.1h0M233.0 330.4h0M237.4 326.5h0M273.1 320.3h0M222.4 338.9h0M252.0 337.4h0M215.1 329.9h0M222.3 333.0h0M224.1 336.9h0M286.7 329.2h0M237.8 344.0h0M227.0 327.7h0M241.2 320.1h0M227.4 330.1h0M234.6 330.8h0M227.3 318.1h0M233.1 320.4h0M214.4 325.6h0M221.9 330.3h0M240.3 328.7h0M232.1 338.0h0M217.6 329.2h0M233.0 323.9h0M219.8 324.1h0M255.6 332.7h0M236.8 331.4h0M206.5 335.8h0M219.0 324.5h0M244.2 332.6h0M230.0 326.7h0M233.1 338.8h0M214.8 326.6h0M215.4 334.2h0M225.5 341.2h0M208.3 339.3h0M223.2 308.4h0M216.2 329.8h0M203.1 338.3h0M215.4 333.1h0M235.7 343.1h0M233.2 342.8h0M219.7 334.5h0M214.5 340.0h0M222.3 325.3h0M229.2 333.7h0M246.1 341.2h0M206.0 337.4h0M235.7 334.1h0M262.8 341.5h0M222.6 324.5h0M252.8 334.5h0M258.3 339.1h0M234.6 336.9h0M243.5 311.6h0M270.0 337.9h0M229.7 308.4h0M229.9 325.6h0M270.9 344.2h0M223.5 333.7h0M239.9 336.5h0M228.5 338.9h0M234.5 344.3h0M232.2 310.1h0M217.9 334.3h0M204.0 337.5h0M243.9 333.2h0M205.6 344.3h0M211.2 338.5h0M221.3 334.0h0M216.8 325.5h0M250.5 343.5h0M246.2 309.7h0M221.9 318.3h0M246.6 343.4h0M222.4 328.6h0M229.7 334.7h0M213.1 342.4h0M224.5 332.2h0M205.8 333.4h0M217.5 342.0h0M234.2 324.1h0M219.2 334.2h0M232.0 331.4h0M274.2 342.0h0M228.2 320.8h0M226.6 306.7h0M215.3 335.9h0M222.9 335.8h0M232.1 316.0h0M226.4 333.9h0M276.9 340.9h0M216.1 330.4h0M250.7 327.3h0M234.6 323.4h0M215.9 329.4h0M238.2 315.8h0M214.1 325.5h0M243.0 331.5h0M221.6 335.2h0M213.6 339.4h0M226.1 337.3h0M219.3 329.6h0M212.5 332.5h0M222.3 331.9h0M228.7 340.8h0M226.0 302.8h0M214.3 329.4h0M208.9 337.8h0M210.0 330.4h0M261.6 338.6h0M220.1 338.0h0M222.3 339.5h0M215.1 332.3h0M210.1 329.0h0M228.4 342.1h0M213.9 329.7h0M220.8 334.4h0M228.3 341.3h0M248.0 336.8h0M209.6 341.9h0M224.3 328.4h0M247.2 315.2h0M213.8 327.0h0M227.7 305.0h0M202.9 344.5h0M267.9 340.9h0M217.3 321.0h0M218.5 328.2h0M219.3 332.7h0M206.6 340.6h0M213.0 333.5h0M230.3 312.7h0M222.6 316.8h0M210.4 344.5h0M230.1 329.6h0M219.6 327.2h0M206.7 340.0h0M227.4 313.4h0M212.1 332.5h0M237.6 341.7h0M220.0 327.2h0M207.6 338.6h0M274.6 339.5h0M225.1 343.2h0M208.3 332.0h0M205.8 335.3h0M264.3 339.6h0M234.2 340.1h0M236.5 328.5h0M235.9 342.4h0M218.0 328.5h0M220.4 331.0h0M214.0 332.9h0M241.9 326.8h0M208.0 343.0h0M226.8 344.3h0M247.7 340.5h0M239.7 333.8h0M244.1 336.5h0M223.0 332.4h0M222.2 322.9h0M242.9 331.2h0M209.9 341.3h0M225.2 338.5h0M225.8 328.3h0M220.0 338.6h0M204.4 338.1h0M218.1 329.2h0M205.7 344.5h0M265.1 341.7h0M222.9 323.3h0M203.4 339.8h0M220.9 324.3h0M274.8 340.4h0M212.4 334.3h0M227.4 325.3h0M225.1 314.8h0M226.9 332.3h0M222.3 321.7h0M215.1 337.7h0M225.7 319.8h0M249.9 332.8h0M248.5 340.1h0M205.3 341.5h0M215.4 343.3h0M234.7 304.3h0M211.7 340.2h0M246.4 344.6h0M215.5 325.8h0M242.7 332.5h0M239.0 336.7h0M226.8 325.2h0M251.8 343.9h0M225.1 317.3h0M227.2 336.2h0M206.5 336.2h0M232.3 326.0h0M250.6 333.2h0M217.5 320.1h0M206.7 344.4h0M249.5 315.0h0M238.0 311.0h0M215.8 340.5h0M248.8 324.1h0M212.5 331.9h0M254.8 328.4h0M209.9 331.8h0M237.6 326.5h0M218.4 332.5h0M222.1 320.4h0M232.9 327.8h0M222.9 334.1h0M280.2 321.2h0M234.8 331.4h0M220.9 320.2h0M210.8 338.6h0M232.1 333.8h0M234.4 342.2h0M225.8 339.5h0M269.1 336.8h0M204.2 340.3h0M208.4 330.5h0M232.7 341.5h0M227.4 319.4h0M227.5 343.6h0M220.4 341.4h0M216.4 331.1h0M226.6 340.2h0M227.8 335.8h0M272.9 322.0h0M228.1 319.9h0M226.2 324.1h0M273.2 329.7h0M232.2 334.9h0M247.3 336.2h0M225.2 325.3h0M229.0 321.9h0M212.4 339.9h0M221.9 321.9h0M213.8 338.7h0M227.0 339.9h0M219.8 338.8h0M212.2 336.1h0M226.1 324.9h0M233.6 319.9h0M247.1 310.9h0M293.2 325.2h0M215.3 337.3h0M270.9 322.9h0M232.7 317.1h0M237.5 314.0h0M243.7 338.7h0M202.9 344.4h0M210.9 340.1h0M220.6 336.0h0M226.7 331.6h0M225.9 323.1h0M276.2 344.1h0M218.2 320.7h0M232.6 324.9h0M247.6 314.0h0M229.1 338.1h0M244.5 334.5h0M224.7 344.4h0M238.2 316.7h0M222.3 329.4h0M214.1 336.9h0M219.2 321.5h0M217.8 344.4h0M252.6 343.4h0M227.9 341.6h0M226.0 308.5h0M225.7 328.1h0M253.0 302.7h0M257.9 316.5h0M281.7 317.5h0M261.9 321.5h0M264.3 322.5h0M294.6 322.5h0M297.5 321.9h0M285.6 325.4h0M293.6 327.4h0M295.5 325.4h0M255.9 325.4h0M266.8 330.4h0M279.7 329.4h0M289.6 330.4h0M297.5 337.3h0M305.4 337.3h0M307.4 339.3h0M274.8 338.3h0M277.7 340.3h0M301.1 323.5h0M228.0 305.0h0M227.7 299.7h0M236.0 296.0h0M243.0 300.0h0M230.0 310.0h0M236.0 306.0h0M245.0 309.0h0M608.4 326.1h0M603.9 327.9h0M606.5 336.7h0M604.8 305.6h0M607.6 333.9h0M615.1 311.6h0M613.1 318.3h0M609.9 326.9h0M606.3 328.6h0M601.7 315.4h0M615.8 320.4h0M608.7 314.1h0M602.0 331.7h0M607.7 315.7h0M605.4 335.8h0M611.8 320.5h0M602.5 308.0h0M605.9 331.0h0M619.8 319.5h0M601.8 305.5h0M609.0 306.4h0M601.9 323.2h0M604.0 309.1h0M608.3 302.7h0M609.3 318.4h0M606.6 330.7h0M607.3 320.1h0M601.7 323.5h0M606.0 331.3h0M617.1 334.9h0M608.6 335.1h0M609.0 334.1h0M603.1 321.1h0M607.9 309.9h0M605.4 319.0h0M622.4 333.5h0M601.5 324.2h0M606.8 319.9h0M605.9 322.9h0M605.2 305.5h0M603.2 333.1h0M616.0 322.9h0M617.9 320.3h0M610.9 326.2h0M604.0 324.5h0M610.7 323.9h0M608.8 300.2h0M615.6 330.5h0M602.2 316.2h0M629.3 332.1h0M612.9 316.3h0M605.0 323.2h0M608.7 316.7h0M604.5 322.8h0M605.4 322.0h0M605.7 309.4h0M611.7 312.6h0M601.8 309.7h0M617.0 329.0h0M616.1 333.2h0M608.6 329.4h0M609.0 317.2h0M605.9 316.1h0M603.9 323.7h0M601.2 319.4h0M606.6 324.5h0M603.5 313.4h0M627.5 333.0h0M613.6 314.1h0M602.7 323.6h0M609.7 319.2h0M602.5 313.8h0M603.6 308.1h0M606.3 308.0h0M616.0 336.1h0M607.7 321.0h0M603.4 335.8h0M604.6 326.4h0M602.5 316.1h0M601.6 328.8h0M606.2 319.2h0M624.4 335.5h0M601.9 315.7h0M616.6 316.9h0M602.8 323.8h0M614.4 331.1h0M625.9 321.2h0M605.4 333.0h0M616.9 321.0h0M604.0 319.2h0M603.2 322.1h0M614.1 326.2h0M605.7 320.5h0M610.0 306.8h0M602.8 323.1h0M602.4 306.6h0M611.3 316.0h0M611.7 324.7h0M603.7 308.1h0M601.8 313.1h0M601.0 330.2h0M614.9 333.7h0M622.2 330.1h0M614.3 323.1h0M615.8 327.8h0M601.3 316.9h0M607.0 333.4h0M625.4 324.6h0M603.9 314.3h0M603.7 323.4h0M602.3 319.3h0M612.4 324.3h0M613.8 315.4h0M606.3 326.0h0M606.1 333.9h0M618.9 334.1h0M603.7 330.8h0M619.8 322.1h0M602.9 314.7h0M609.2 306.8h0M611.0 324.3h0M617.5 322.0h0M605.2 313.2h0M624.1 321.8h0M609.2 329.8h0M601.0 333.7h0M609.7 301.7h0M612.3 301.7h0M614.1 304.3h0M616.7 302.5h0M610.6 306.0h0M627.1 298.7h0M619.3 321.6h0M622.7 324.2h0M625.3 325.1h0M621.0 330.3h0M623.6 332.0h0M625.3 333.7h0M627.9 332.0h0M629.7 335.1h0M614.1 331.1h0M614.9 333.7h0" stroke="#E8191E" stroke-width="3.4" stroke-linecap="round" fill="none"/><path d="M174.1 3V368M201.9 3V368M38 347.5H359M548.2 5V369.5M599.6 5V369.5M410 338.2H731" stroke="#000" stroke-width="2.2" stroke-dasharray="0 4" stroke-linecap="round" fill="none"/><rect x="37.1" y="1.9" width="322.6" height="367.1" fill="none" stroke="#222" stroke-width="1.7"/><rect x="409.0" y="3.9" width="322.5" height="366.8" fill="none" stroke="#222" stroke-width="1.7"/><path d="M49.4 369.0V371.4M118.7 369.0V371.4M188.0 369.0V371.4M257.3 369.0V371.4M326.6 369.0V371.4M34.6 352.3H37.1M34.6 260.1H37.1M34.6 167.8H37.1M34.6 75.6H37.1M419.6 370.8V373.0M496.7 370.8V373.0M573.9 370.8V373.0M651.1 370.8V373.0M728.2 370.8V373.0M406.5 353.9H409M406.5 233.6H409M406.5 113.3H409" stroke="#333" stroke-width="1.2" fill="none"/><g font-family="Liberation Serif, serif" font-weight="bold" font-size="12" fill="#000"><text x="49.4" y="382.0" text-anchor="middle">−10</text><text x="118.7" y="382.0" text-anchor="middle">−5</text><text x="188.0" y="382.0" text-anchor="middle">0</text><text x="257.3" y="382.0" text-anchor="middle">5</text><text x="326.6" y="382.0" text-anchor="middle">10</text><text x="31" y="356.5" text-anchor="end">0</text><text x="31" y="264.2" text-anchor="end">25</text><text x="31" y="172.0" text-anchor="end">50</text><text x="31" y="79.8" text-anchor="end">75</text><text x="419.6" y="384" text-anchor="middle">−6</text><text x="496.7" y="384" text-anchor="middle">−3</text><text x="573.9" y="384" text-anchor="middle">0</text><text x="651.1" y="384" text-anchor="middle">3</text><text x="728.2" y="384" text-anchor="middle">6</text><text x="403" y="358.1" text-anchor="end">0</text><text x="403" y="237.8" text-anchor="end">10</text><text x="403" y="117.5" text-anchor="end">20</text></g><text font-family="Liberation Serif, serif" font-weight="bold" font-size="14" fill="#000" x="192.2" y="397.7" text-anchor="middle" style="font-size:14.25px">log2(Fold Change)</text><text font-family="Liberation Serif, serif" font-weight="bold" font-size="14" fill="#000" x="564.6" y="399.4" text-anchor="middle" style="font-size:14.25px">log2(Fold Change)</text><text font-family="Liberation Serif, serif" font-weight="bold" font-size="14" fill="#000" transform="translate(11.4,191.1) rotate(-90)" text-anchor="middle">−log10(p−value)</text><text font-family="Liberation Serif, serif" font-weight="bold" font-size="14" fill="#000" transform="translate(385.6,192.7) rotate(-90)" text-anchor="middle" style="font-size:14.4px">−log10(p−value)</text><rect x="205.6" y="2.8" width="97.1" height="96.8" fill="#fff"/><path d="M205.6 2.8H302.7M205.6 99.6H302.7" stroke="#000" stroke-width="1.6" stroke-dasharray="2.7 1.7" fill="none"/><path d="M205.6 2.8V99.6M302.7 2.8V99.6" stroke="#000" stroke-width="1.4" stroke-dasharray="2.5 1.9" fill="none"/><text font-family="Liberation Serif, serif" font-weight="bold" font-size="13.2" fill="#33A03D" x="214.4" y="20.0">Control: Ppe</text><text font-family="Liberation Serif, serif" font-weight="bold" font-size="13.2" fill="#33A03D" x="214.4" y="37.0">Case:</text><text font-family="Liberation Serif, serif" font-weight="bold" font-size="13.2" fill="#33A03D" x="261.0" y="37.0">MP1</text><circle cx="211.0" cy="53.3" r="2.4" fill="#4A62B0"/><text font-family="Liberation Serif, serif" font-weight="bold" font-size="13.2" fill="#33A03D" x="216.9" y="56.6">Down (1618)</text><circle cx="211.0" cy="69.5" r="2.4" fill="#C8C8C8"/><text font-family="Liberation Serif, serif" font-weight="bold" font-size="13.2" fill="#33A03D" x="216.9" y="72.8">NoDiff (5428)</text><circle cx="211.0" cy="85.7" r="2.4" fill="#E2653F"/><text font-family="Liberation Serif, serif" font-weight="bold" font-size="13.2" fill="#33A03D" x="216.9" y="89.0">Up (1369)</text><rect x="550.5" y="6.4" width="97.1" height="96.8" fill="#fff"/><path d="M550.5 6.4H647.6M550.5 103.2H647.6" stroke="#000" stroke-width="1.6" stroke-dasharray="2.7 1.7" fill="none"/><path d="M550.5 6.4V103.2M647.6 6.4V103.2" stroke="#000" stroke-width="1.4" stroke-dasharray="2.5 1.9" fill="none"/><text font-family="Liberation Serif, serif" font-weight="bold" font-size="13.2" fill="#33A03D" x="559.3" y="23.6">Control: MP1</text><text font-family="Liberation Serif, serif" font-weight="bold" font-size="13.2" fill="#33A03D" x="559.3" y="40.6">Case:</text><text font-family="Liberation Serif, serif" font-weight="bold" font-size="13.2" fill="#33A03D" x="605.9" y="40.6">MP2</text><circle cx="555.9" cy="56.9" r="2.4" fill="#4A62B0"/><text font-family="Liberation Serif, serif" font-weight="bold" font-size="13.2" fill="#33A03D" x="561.8" y="60.2">Down (97)</text><circle cx="555.9" cy="73.1" r="2.4" fill="#C8C8C8"/><text font-family="Liberation Serif, serif" font-weight="bold" font-size="13.2" fill="#33A03D" x="561.8" y="76.4">NoDiff (7983)</text><circle cx="555.9" cy="89.3" r="2.4" fill="#E2653F"/><text font-family="Liberation Serif, serif" font-weight="bold" font-size="13.2" fill="#33A03D" x="561.8" y="92.6">Up (250)</text>
</svg>
</body></html>
